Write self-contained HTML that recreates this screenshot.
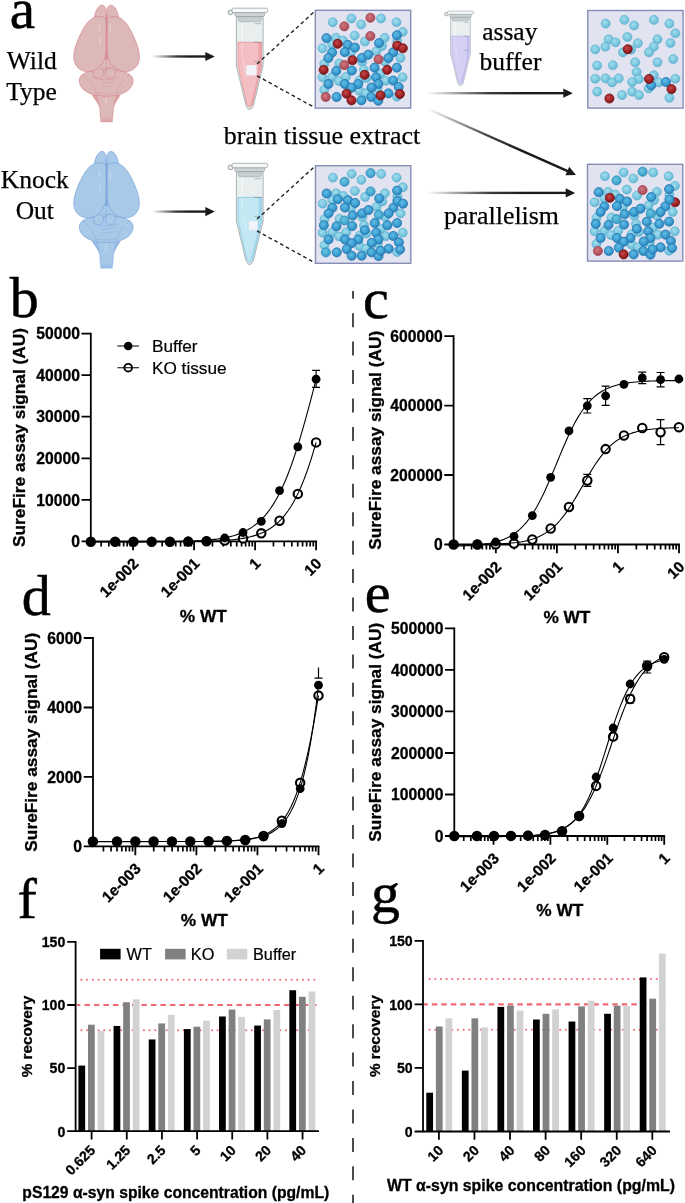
<!DOCTYPE html>
<html lang="en">
<head>
<meta charset="utf-8">
<title>Figure: SureFire assay parallelism and spike recovery</title>
<style>
html,body{margin:0;padding:0;background:#fff;}
body{width:685px;height:1203px;overflow:hidden;}
svg{display:block;}
.fs{font-family:'Liberation Serif', 'DejaVu Serif', serif;}
.fn{font-family:'Liberation Sans', 'DejaVu Sans', sans-serif;}
.b{font-weight:bold;}
</style>
</head>
<body>
<svg width="685" height="1203" viewBox="0 0 685 1203">
<defs>
<linearGradient id="ga" x1="0" y1="0" x2="1" y2="0"><stop offset="0" stop-color="#1a1a1a" stop-opacity="0"/><stop offset="0.45" stop-color="#1a1a1a" stop-opacity="0.85"/><stop offset="0.7" stop-color="#1a1a1a"/><stop offset="1" stop-color="#1a1a1a"/></linearGradient>
<radialGradient id="sL" cx="0.42" cy="0.38" r="0.62"><stop offset="0" stop-color="#a2dcec"/><stop offset="0.55" stop-color="#7fcbe2"/><stop offset="1" stop-color="#63b4d2"/></radialGradient>
<radialGradient id="sB" cx="0.42" cy="0.38" r="0.62"><stop offset="0" stop-color="#62bce4"/><stop offset="0.55" stop-color="#3fa2d4"/><stop offset="1" stop-color="#2b84bc"/></radialGradient>
<radialGradient id="sR" cx="0.42" cy="0.38" r="0.62"><stop offset="0" stop-color="#c44a4c"/><stop offset="0.55" stop-color="#a62629"/><stop offset="1" stop-color="#7e1719"/></radialGradient>
<radialGradient id="sP" cx="0.42" cy="0.38" r="0.62"><stop offset="0" stop-color="#cf7880"/><stop offset="0.55" stop-color="#bb5c66"/><stop offset="1" stop-color="#a64854"/></radialGradient>
<radialGradient id="sM" cx="0.42" cy="0.38" r="0.62"><stop offset="0" stop-color="#6cc4e0"/><stop offset="0.55" stop-color="#4cb0d4"/><stop offset="1" stop-color="#3a98c4"/></radialGradient>
<linearGradient id="bs1" x1="0" y1="0" x2="0" y2="1"><stop offset="0" stop-color="#dcb8b8"/><stop offset="0.78" stop-color="#dcb8b8"/><stop offset="0.98" stop-color="#dcb8b8" stop-opacity="0"/></linearGradient>
<linearGradient id="bs2" x1="0" y1="0" x2="0" y2="1"><stop offset="0" stop-color="#a9c9e9"/><stop offset="0.78" stop-color="#a9c9e9"/><stop offset="0.98" stop-color="#a9c9e9" stop-opacity="0"/></linearGradient>
</defs>
<rect width="685" height="1203" fill="#fff"/>
<g transform="translate(65 0) scale(0.12408)" fill="#dcb8b8" stroke="#d6888d" stroke-width="6" stroke-linejoin="round">
<path d="M218 765 C240 800 268 830 280 870 L286 985 L384 985 L390 870 C400 830 425 800 446 765 Z" fill="#dca3a5" stroke="none"/>
<path d="M262 765 C275 800 284 850 286 985 L384 985 C386 850 395 800 408 765 Z" fill="url(#bs1)" stroke="none"/>
<path d="M218 765 C240 800 268 830 280 870 L284 945 M446 765 C425 800 400 830 390 870 L386 945" fill="none" stroke-width="5" opacity="0.8"/>
<ellipse cx="334" cy="540" rx="120" ry="90" stroke="none"/>
<path d="M332 565 C420 560 548 575 548 650 C548 730 450 775 332 775 C214 775 116 730 116 650 C116 575 244 560 332 565 Z"/>
<path d="M140 600 C200 640 230 700 250 745 M525 600 C465 640 435 700 415 745 M235 745 C300 758 365 758 430 745 M225 620 C290 650 375 650 440 620 M290 665 C320 672 350 672 400 655 M300 695 C325 702 345 700 380 688" fill="none" stroke-width="4.5" opacity="0.7"/>
<circle cx="270" cy="590" r="42" stroke-width="5"/><circle cx="366" cy="590" r="42" stroke-width="5"/>
<path d="M300 540 L334 555 L368 540 M334 555 L334 480" fill="none" stroke-width="5" opacity="0.7"/>
<rect x="326" y="120" width="18" height="360" fill="#d6888d" stroke="none"/>
<path d="M236 140 C245 90 268 42 298 42 C322 42 332 70 332 100 L332 150 Z"/>
<path d="M432 140 C423 90 400 42 370 42 C346 42 338 70 338 100 L338 150 Z"/>
<path d="M330 150 C285 118 210 128 158 215 C108 300 62 410 72 480 C84 555 150 590 215 573 C292 553 331 480 331 400 Z"/>
<path d="M340 150 C385 118 460 128 512 215 C562 300 608 410 598 480 C586 555 520 590 455 573 C378 553 339 480 339 400 Z"/>
<path d="M278 200 L276 250 M286 310 L282 360 M362 200 L366 260 M330 790 L330 835 M480 625 L500 635" fill="none" stroke="#eddada" stroke-width="7" stroke-linecap="round" opacity="0.9"/>
</g>
<g transform="translate(65 146.3) scale(0.12408)" fill="#a9c9e9" stroke="#79a5da" stroke-width="6" stroke-linejoin="round">
<path d="M218 765 C240 800 268 830 280 870 L286 985 L384 985 L390 870 C400 830 425 800 446 765 Z" fill="#94b9e3" stroke="none"/>
<path d="M262 765 C275 800 284 850 286 985 L384 985 C386 850 395 800 408 765 Z" fill="url(#bs2)" stroke="none"/>
<path d="M218 765 C240 800 268 830 280 870 L284 945 M446 765 C425 800 400 830 390 870 L386 945" fill="none" stroke-width="5" opacity="0.8"/>
<ellipse cx="334" cy="540" rx="120" ry="90" stroke="none"/>
<path d="M332 565 C420 560 548 575 548 650 C548 730 450 775 332 775 C214 775 116 730 116 650 C116 575 244 560 332 565 Z"/>
<path d="M140 600 C200 640 230 700 250 745 M525 600 C465 640 435 700 415 745 M235 745 C300 758 365 758 430 745 M225 620 C290 650 375 650 440 620 M290 665 C320 672 350 672 400 655 M300 695 C325 702 345 700 380 688" fill="none" stroke-width="4.5" opacity="0.7"/>
<circle cx="270" cy="590" r="42" stroke-width="5"/><circle cx="366" cy="590" r="42" stroke-width="5"/>
<path d="M300 540 L334 555 L368 540 M334 555 L334 480" fill="none" stroke-width="5" opacity="0.7"/>
<rect x="326" y="120" width="18" height="360" fill="#79a5da" stroke="none"/>
<path d="M236 140 C245 90 268 42 298 42 C322 42 332 70 332 100 L332 150 Z"/>
<path d="M432 140 C423 90 400 42 370 42 C346 42 338 70 338 100 L338 150 Z"/>
<path d="M330 150 C285 118 210 128 158 215 C108 300 62 410 72 480 C84 555 150 590 215 573 C292 553 331 480 331 400 Z"/>
<path d="M340 150 C385 118 460 128 512 215 C562 300 608 410 598 480 C586 555 520 590 455 573 C378 553 339 480 339 400 Z"/>
<path d="M278 200 L276 250 M286 310 L282 360 M362 200 L366 260 M330 790 L330 835 M480 625 L500 635" fill="none" stroke="#cfe0f4" stroke-width="7" stroke-linecap="round" opacity="0.9"/>
</g>
<g transform="translate(152.00 56.50) rotate(0.000)"><rect x="0" y="-1.18" width="54.30" height="2.35" fill="url(#ga)"/><path d="M62.80 0 L53.30 -4.60 L53.30 4.60 Z" fill="#1a1a1a"/></g>
<g transform="translate(152.00 211.60) rotate(0.000)"><rect x="0" y="-1.18" width="54.30" height="2.35" fill="url(#ga)"/><path d="M62.80 0 L53.30 -4.60 L53.30 4.60 Z" fill="#1a1a1a"/></g>
<g transform="translate(427.00 93.20) rotate(0.000)"><rect x="0" y="-1.18" width="137.30" height="2.35" fill="url(#ga)"/><path d="M145.80 0 L136.30 -4.60 L136.30 4.60 Z" fill="#1a1a1a"/></g>
<g transform="translate(427.00 108.50) rotate(24.020)"><rect x="0" y="-1.18" width="154.63" height="2.35" fill="url(#ga)"/><path d="M163.13 0 L153.63 -4.60 L153.63 4.60 Z" fill="#1a1a1a"/></g>
<g transform="translate(427.00 192.90) rotate(0.000)"><rect x="0" y="-1.18" width="139.70" height="2.35" fill="url(#ga)"/><path d="M148.20 0 L138.70 -4.60 L138.70 4.60 Z" fill="#1a1a1a"/></g>
<g transform="translate(215.000 0.000) scale(0.11679)">
<ellipse cx="133" cy="106" rx="21" ry="20" fill="#e9edee" stroke="#8b979c" stroke-width="8"/>
<path d="M183 140 L183 565 L266 905 Q297 972 328 905 L412 565 L412 140 Z" fill="#e9efef" stroke="#7f8d92" stroke-width="5.5" stroke-linejoin="round"/>
<path d="M232 200 L232 340" stroke="#fff" stroke-width="14" opacity="0.5" stroke-linecap="round"/>
<path d="M197 362 L399 362 L399 565 L321 893 Q297 943 273 893 L197 565 Z" fill="#f3bfc3" stroke="#e2848c" stroke-width="5.5" stroke-linejoin="round"/>
<path d="M372 366 L396 366 L396 565 L319 888 Q306 916 297 912 C330 800 366 680 372 560 Z" fill="#e9989f" opacity="0.75"/>
<path d="M232 380 L232 470 M240 500 L262 640" stroke="#fff" stroke-width="10" opacity="0.3" stroke-linecap="round"/>
<path d="M198 143 L397 143 L397 162 Q397 186 374 186 L221 186 Q198 186 198 162 Z" fill="#c9cfd1" stroke="#98a3a7" stroke-width="5"/>
<path d="M170 108 L425 108 L425 128 Q425 140 413 140 L182 140 Q170 140 170 128 Z" fill="#d0d6d8" stroke="#8b979c" stroke-width="5"/>
<rect x="146" y="70" width="304" height="38" rx="12" fill="#f6f8f8" stroke="#8b979c" stroke-width="6"/>
<path d="M340 203 L395 203 M335 362 L400 362 M335 525 L388 525" stroke="#6d777b" stroke-width="4" fill="none"/>
<rect x="268" y="558" width="87" height="87" fill="#f3f4fa"/>
</g>
<g transform="translate(215.000 155.100) scale(0.11679)">
<ellipse cx="133" cy="106" rx="21" ry="20" fill="#e9edee" stroke="#8b979c" stroke-width="8"/>
<path d="M183 140 L183 565 L266 905 Q297 972 328 905 L412 565 L412 140 Z" fill="#e9efef" stroke="#7f8d92" stroke-width="5.5" stroke-linejoin="round"/>
<path d="M232 200 L232 340" stroke="#fff" stroke-width="14" opacity="0.5" stroke-linecap="round"/>
<path d="M197 362 L399 362 L399 565 L321 893 Q297 943 273 893 L197 565 Z" fill="#c3e7f3" stroke="#6fbcdb" stroke-width="5.5" stroke-linejoin="round"/>
<path d="M372 366 L396 366 L396 565 L319 888 Q306 916 297 912 C330 800 366 680 372 560 Z" fill="#9ad4ea" opacity="0.75"/>
<path d="M232 380 L232 470 M240 500 L262 640" stroke="#fff" stroke-width="10" opacity="0.3" stroke-linecap="round"/>
<path d="M198 143 L397 143 L397 162 Q397 186 374 186 L221 186 Q198 186 198 162 Z" fill="#c9cfd1" stroke="#98a3a7" stroke-width="5"/>
<path d="M170 108 L425 108 L425 128 Q425 140 413 140 L182 140 Q170 140 170 128 Z" fill="#d0d6d8" stroke="#8b979c" stroke-width="5"/>
<rect x="146" y="70" width="304" height="38" rx="12" fill="#f6f8f8" stroke="#8b979c" stroke-width="6"/>
<path d="M340 203 L395 203 M335 362 L400 362 M335 525 L388 525" stroke="#6d777b" stroke-width="4" fill="none"/>
<rect x="290" y="567" width="73" height="73" fill="#f3f4fa"/>
</g>
<g transform="translate(434.889 5.071) scale(0.08607)">
<ellipse cx="133" cy="106" rx="21" ry="20" fill="#e9edee" stroke="#8b979c" stroke-width="8"/>
<path d="M183 140 L183 565 L266 905 Q297 972 328 905 L412 565 L412 140 Z" fill="#e9efef" stroke="#7f8d92" stroke-width="5.5" stroke-linejoin="round"/>
<path d="M232 200 L232 340" stroke="#fff" stroke-width="14" opacity="0.5" stroke-linecap="round"/>
<path d="M197 362 L399 362 L399 565 L321 893 Q297 943 273 893 L197 565 Z" fill="#d6d0f4" stroke="#a79fe4" stroke-width="5.5" stroke-linejoin="round"/>
<path d="M372 366 L396 366 L396 565 L319 888 Q306 916 297 912 C330 800 366 680 372 560 Z" fill="#bdb5ec" opacity="0.75"/>
<path d="M232 380 L232 470 M240 500 L262 640" stroke="#fff" stroke-width="10" opacity="0.3" stroke-linecap="round"/>
<path d="M198 143 L397 143 L397 162 Q397 186 374 186 L221 186 Q198 186 198 162 Z" fill="#c9cfd1" stroke="#98a3a7" stroke-width="5"/>
<path d="M170 108 L425 108 L425 128 Q425 140 413 140 L182 140 Q170 140 170 128 Z" fill="#d0d6d8" stroke="#8b979c" stroke-width="5"/>
<rect x="146" y="70" width="304" height="38" rx="12" fill="#f6f8f8" stroke="#8b979c" stroke-width="6"/>
<path d="M340 203 L395 203 M335 362 L400 362 M335 525 L388 525" stroke="#6d777b" stroke-width="4" fill="none"/>
</g>
<path d="M257 64.0 L315.5 10.6 M257 75.8 L315.5 108.0" stroke="#222" stroke-width="1.4" stroke-dasharray="3.7 2.9" fill="none"/>
<path d="M257 219.1 L315.5 165.7 M257 230.9 L315.5 263.1" stroke="#222" stroke-width="1.4" stroke-dasharray="3.7 2.9" fill="none"/>
<g><rect x="315.30" y="10.30" width="95.40" height="97.80" fill="#e1e3f1" stroke="#858db5" stroke-width="1.4"/>
<circle cx="332.72" cy="22.21" r="4.55" fill="url(#sL)" stroke="#5caccc" stroke-width="0.55"/>
<circle cx="351.48" cy="18.49" r="4.55" fill="url(#sL)" stroke="#5caccc" stroke-width="0.55"/>
<circle cx="361.16" cy="24.45" r="4.55" fill="url(#sL)" stroke="#5caccc" stroke-width="0.55"/>
<circle cx="380.97" cy="18.49" r="4.55" fill="url(#sL)" stroke="#5caccc" stroke-width="0.55"/>
<circle cx="396.45" cy="22.21" r="4.55" fill="url(#sL)" stroke="#5caccc" stroke-width="0.55"/>
<circle cx="402.71" cy="31.89" r="4.55" fill="url(#sL)" stroke="#5caccc" stroke-width="0.55"/>
<circle cx="335.85" cy="37.85" r="4.55" fill="url(#sL)" stroke="#5caccc" stroke-width="0.55"/>
<circle cx="343.00" cy="40.53" r="4.55" fill="url(#sL)" stroke="#5caccc" stroke-width="0.55"/>
<circle cx="354.61" cy="35.61" r="4.55" fill="url(#sL)" stroke="#5caccc" stroke-width="0.55"/>
<circle cx="364.89" cy="41.57" r="4.55" fill="url(#sL)" stroke="#5caccc" stroke-width="0.55"/>
<circle cx="384.69" cy="37.85" r="4.55" fill="url(#sL)" stroke="#5caccc" stroke-width="0.55"/>
<circle cx="397.20" cy="40.83" r="4.55" fill="url(#sL)" stroke="#5caccc" stroke-width="0.55"/>
<circle cx="322.45" cy="48.27" r="4.55" fill="url(#sL)" stroke="#5caccc" stroke-width="0.55"/>
<circle cx="332.13" cy="44.55" r="4.55" fill="url(#sL)" stroke="#5caccc" stroke-width="0.55"/>
<circle cx="376.35" cy="51.25" r="4.55" fill="url(#sL)" stroke="#5caccc" stroke-width="0.55"/>
<circle cx="382.01" cy="46.04" r="4.55" fill="url(#sL)" stroke="#5caccc" stroke-width="0.55"/>
<circle cx="400.47" cy="57.95" r="4.55" fill="url(#sL)" stroke="#5caccc" stroke-width="0.55"/>
<circle cx="324.23" cy="63.91" r="4.55" fill="url(#sL)" stroke="#5caccc" stroke-width="0.55"/>
<circle cx="339.27" cy="63.46" r="4.55" fill="url(#sL)" stroke="#5caccc" stroke-width="0.55"/>
<circle cx="362.21" cy="61.67" r="4.55" fill="url(#sL)" stroke="#5caccc" stroke-width="0.55"/>
<circle cx="384.99" cy="61.67" r="4.55" fill="url(#sL)" stroke="#5caccc" stroke-width="0.55"/>
<circle cx="322.45" cy="77.31" r="4.55" fill="url(#sL)" stroke="#5caccc" stroke-width="0.55"/>
<circle cx="332.13" cy="76.86" r="4.55" fill="url(#sL)" stroke="#5caccc" stroke-width="0.55"/>
<circle cx="345.97" cy="76.86" r="4.55" fill="url(#sL)" stroke="#5caccc" stroke-width="0.55"/>
<circle cx="338.83" cy="81.03" r="4.55" fill="url(#sL)" stroke="#5caccc" stroke-width="0.55"/>
<circle cx="363.84" cy="69.86" r="4.55" fill="url(#sL)" stroke="#5caccc" stroke-width="0.55"/>
<circle cx="380.82" cy="73.58" r="4.55" fill="url(#sL)" stroke="#5caccc" stroke-width="0.55"/>
<circle cx="402.56" cy="77.31" r="4.55" fill="url(#sL)" stroke="#5caccc" stroke-width="0.55"/>
<circle cx="385.73" cy="80.73" r="4.55" fill="url(#sL)" stroke="#5caccc" stroke-width="0.55"/>
<circle cx="366.37" cy="78.05" r="4.55" fill="url(#sL)" stroke="#5caccc" stroke-width="0.55"/>
<circle cx="359.38" cy="80.29" r="4.55" fill="url(#sL)" stroke="#5caccc" stroke-width="0.55"/>
<circle cx="324.23" cy="89.96" r="4.55" fill="url(#sL)" stroke="#5caccc" stroke-width="0.55"/>
<circle cx="359.38" cy="90.71" r="4.55" fill="url(#sL)" stroke="#5caccc" stroke-width="0.55"/>
<circle cx="365.93" cy="93.24" r="4.55" fill="url(#sL)" stroke="#5caccc" stroke-width="0.55"/>
<circle cx="396.90" cy="96.66" r="4.55" fill="url(#sL)" stroke="#5caccc" stroke-width="0.55"/>
<circle cx="350.74" cy="52.74" r="4.55" fill="url(#sL)" stroke="#5caccc" stroke-width="0.55"/>
<circle cx="377.54" cy="88.48" r="4.55" fill="url(#sL)" stroke="#5caccc" stroke-width="0.55"/>
<circle cx="370.39" cy="17.75" r="4.55" fill="url(#sP)" stroke="#a04654" stroke-width="0.8"/>
<circle cx="344.34" cy="26.38" r="4.55" fill="url(#sP)" stroke="#a04654" stroke-width="0.8"/>
<circle cx="370.39" cy="36.06" r="4.55" fill="url(#sP)" stroke="#a04654" stroke-width="0.8"/>
<circle cx="378.58" cy="59.44" r="4.55" fill="url(#sP)" stroke="#a04654" stroke-width="0.8"/>
<circle cx="344.34" cy="65.10" r="4.55" fill="url(#sP)" stroke="#a04654" stroke-width="0.8"/>
<circle cx="325.72" cy="96.96" r="4.55" fill="url(#sP)" stroke="#a04654" stroke-width="0.8"/>
<circle cx="326.47" cy="38.15" r="4.55" fill="url(#sB)" stroke="#2472ac" stroke-width="0.8"/>
<circle cx="396.90" cy="35.17" r="4.55" fill="url(#sB)" stroke="#2472ac" stroke-width="0.8"/>
<circle cx="347.76" cy="44.85" r="4.55" fill="url(#sB)" stroke="#2472ac" stroke-width="0.8"/>
<circle cx="354.91" cy="47.53" r="4.55" fill="url(#sB)" stroke="#2472ac" stroke-width="0.8"/>
<circle cx="379.03" cy="43.06" r="4.55" fill="url(#sB)" stroke="#2472ac" stroke-width="0.8"/>
<circle cx="332.13" cy="52.44" r="4.55" fill="url(#sB)" stroke="#2472ac" stroke-width="0.8"/>
<circle cx="344.78" cy="52.14" r="4.55" fill="url(#sB)" stroke="#2472ac" stroke-width="0.8"/>
<circle cx="393.18" cy="52.29" r="4.55" fill="url(#sB)" stroke="#2472ac" stroke-width="0.8"/>
<circle cx="328.40" cy="57.95" r="4.55" fill="url(#sB)" stroke="#2472ac" stroke-width="0.8"/>
<circle cx="361.91" cy="57.95" r="4.55" fill="url(#sB)" stroke="#2472ac" stroke-width="0.8"/>
<circle cx="368.31" cy="54.67" r="4.55" fill="url(#sB)" stroke="#2472ac" stroke-width="0.8"/>
<circle cx="388.41" cy="57.95" r="4.55" fill="url(#sB)" stroke="#2472ac" stroke-width="0.8"/>
<circle cx="374.56" cy="67.63" r="4.55" fill="url(#sB)" stroke="#2472ac" stroke-width="0.8"/>
<circle cx="396.90" cy="67.63" r="4.55" fill="url(#sB)" stroke="#2472ac" stroke-width="0.8"/>
<circle cx="336.30" cy="70.90" r="4.55" fill="url(#sB)" stroke="#2472ac" stroke-width="0.8"/>
<circle cx="351.93" cy="70.61" r="4.55" fill="url(#sB)" stroke="#2472ac" stroke-width="0.8"/>
<circle cx="376.05" cy="77.31" r="4.55" fill="url(#sB)" stroke="#2472ac" stroke-width="0.8"/>
<circle cx="393.18" cy="80.58" r="4.55" fill="url(#sB)" stroke="#2472ac" stroke-width="0.8"/>
<circle cx="328.40" cy="84.01" r="4.55" fill="url(#sB)" stroke="#2472ac" stroke-width="0.8"/>
<circle cx="344.78" cy="84.01" r="4.55" fill="url(#sB)" stroke="#2472ac" stroke-width="0.8"/>
<circle cx="358.18" cy="84.01" r="4.55" fill="url(#sB)" stroke="#2472ac" stroke-width="0.8"/>
<circle cx="378.29" cy="84.01" r="4.55" fill="url(#sB)" stroke="#2472ac" stroke-width="0.8"/>
<circle cx="351.48" cy="87.73" r="4.55" fill="url(#sB)" stroke="#2472ac" stroke-width="0.8"/>
<circle cx="371.59" cy="87.43" r="4.55" fill="url(#sB)" stroke="#2472ac" stroke-width="0.8"/>
<circle cx="398.69" cy="86.99" r="4.55" fill="url(#sB)" stroke="#2472ac" stroke-width="0.8"/>
<circle cx="336.59" cy="96.96" r="4.55" fill="url(#sB)" stroke="#2472ac" stroke-width="0.8"/>
<circle cx="371.29" cy="96.96" r="4.55" fill="url(#sB)" stroke="#2472ac" stroke-width="0.8"/>
<circle cx="388.41" cy="93.39" r="4.55" fill="url(#sB)" stroke="#2472ac" stroke-width="0.8"/>
<circle cx="361.46" cy="100.39" r="4.55" fill="url(#sB)" stroke="#2472ac" stroke-width="0.8"/>
<circle cx="378.29" cy="100.69" r="4.55" fill="url(#sB)" stroke="#2472ac" stroke-width="0.8"/>
<circle cx="337.64" cy="43.80" r="4.55" fill="url(#sR)" stroke="#701215" stroke-width="0.8"/>
<circle cx="397.20" cy="45.59" r="4.55" fill="url(#sR)" stroke="#701215" stroke-width="0.8"/>
<circle cx="402.86" cy="48.27" r="4.55" fill="url(#sR)" stroke="#701215" stroke-width="0.8"/>
<circle cx="352.53" cy="60.18" r="4.55" fill="url(#sR)" stroke="#701215" stroke-width="0.8"/>
<circle cx="323.64" cy="69.86" r="4.55" fill="url(#sR)" stroke="#701215" stroke-width="0.8"/>
<circle cx="387.22" cy="69.86" r="4.55" fill="url(#sR)" stroke="#701215" stroke-width="0.8"/>
<circle cx="364.59" cy="74.78" r="4.55" fill="url(#sR)" stroke="#701215" stroke-width="0.8"/>
<circle cx="346.57" cy="93.69" r="4.55" fill="url(#sR)" stroke="#701215" stroke-width="0.8"/>
<circle cx="380.52" cy="95.47" r="4.55" fill="url(#sR)" stroke="#701215" stroke-width="0.8"/>
<circle cx="399.88" cy="93.98" r="4.55" fill="url(#sR)" stroke="#701215" stroke-width="0.8"/>
<circle cx="351.48" cy="100.39" r="4.55" fill="url(#sR)" stroke="#701215" stroke-width="0.8"/>
</g>
<g><rect x="315.50" y="165.70" width="95.30" height="97.60" fill="#e1e3f1" stroke="#858db5" stroke-width="1.4"/>
<circle cx="332.92" cy="177.61" r="4.55" fill="url(#sL)" stroke="#5caccc" stroke-width="0.55"/>
<circle cx="351.68" cy="173.89" r="4.55" fill="url(#sL)" stroke="#5caccc" stroke-width="0.55"/>
<circle cx="361.36" cy="179.85" r="4.55" fill="url(#sL)" stroke="#5caccc" stroke-width="0.55"/>
<circle cx="381.17" cy="173.89" r="4.55" fill="url(#sL)" stroke="#5caccc" stroke-width="0.55"/>
<circle cx="396.65" cy="177.61" r="4.55" fill="url(#sL)" stroke="#5caccc" stroke-width="0.55"/>
<circle cx="402.91" cy="187.29" r="4.55" fill="url(#sL)" stroke="#5caccc" stroke-width="0.55"/>
<circle cx="336.05" cy="193.25" r="4.55" fill="url(#sL)" stroke="#5caccc" stroke-width="0.55"/>
<circle cx="343.20" cy="195.93" r="4.55" fill="url(#sL)" stroke="#5caccc" stroke-width="0.55"/>
<circle cx="354.81" cy="191.01" r="4.55" fill="url(#sL)" stroke="#5caccc" stroke-width="0.55"/>
<circle cx="365.09" cy="196.97" r="4.55" fill="url(#sL)" stroke="#5caccc" stroke-width="0.55"/>
<circle cx="384.89" cy="193.25" r="4.55" fill="url(#sL)" stroke="#5caccc" stroke-width="0.55"/>
<circle cx="397.40" cy="196.23" r="4.55" fill="url(#sL)" stroke="#5caccc" stroke-width="0.55"/>
<circle cx="322.65" cy="203.67" r="4.55" fill="url(#sL)" stroke="#5caccc" stroke-width="0.55"/>
<circle cx="332.33" cy="199.95" r="4.55" fill="url(#sL)" stroke="#5caccc" stroke-width="0.55"/>
<circle cx="376.55" cy="206.65" r="4.55" fill="url(#sL)" stroke="#5caccc" stroke-width="0.55"/>
<circle cx="382.21" cy="201.44" r="4.55" fill="url(#sL)" stroke="#5caccc" stroke-width="0.55"/>
<circle cx="400.67" cy="213.35" r="4.55" fill="url(#sL)" stroke="#5caccc" stroke-width="0.55"/>
<circle cx="324.43" cy="219.31" r="4.55" fill="url(#sL)" stroke="#5caccc" stroke-width="0.55"/>
<circle cx="339.47" cy="218.86" r="4.55" fill="url(#sL)" stroke="#5caccc" stroke-width="0.55"/>
<circle cx="362.41" cy="217.07" r="4.55" fill="url(#sL)" stroke="#5caccc" stroke-width="0.55"/>
<circle cx="385.19" cy="217.07" r="4.55" fill="url(#sL)" stroke="#5caccc" stroke-width="0.55"/>
<circle cx="322.65" cy="232.71" r="4.55" fill="url(#sL)" stroke="#5caccc" stroke-width="0.55"/>
<circle cx="332.33" cy="232.26" r="4.55" fill="url(#sL)" stroke="#5caccc" stroke-width="0.55"/>
<circle cx="346.17" cy="232.26" r="4.55" fill="url(#sL)" stroke="#5caccc" stroke-width="0.55"/>
<circle cx="339.03" cy="236.43" r="4.55" fill="url(#sL)" stroke="#5caccc" stroke-width="0.55"/>
<circle cx="364.04" cy="225.26" r="4.55" fill="url(#sL)" stroke="#5caccc" stroke-width="0.55"/>
<circle cx="381.02" cy="228.98" r="4.55" fill="url(#sL)" stroke="#5caccc" stroke-width="0.55"/>
<circle cx="402.76" cy="232.71" r="4.55" fill="url(#sL)" stroke="#5caccc" stroke-width="0.55"/>
<circle cx="385.93" cy="236.13" r="4.55" fill="url(#sL)" stroke="#5caccc" stroke-width="0.55"/>
<circle cx="366.57" cy="233.45" r="4.55" fill="url(#sL)" stroke="#5caccc" stroke-width="0.55"/>
<circle cx="359.58" cy="235.69" r="4.55" fill="url(#sL)" stroke="#5caccc" stroke-width="0.55"/>
<circle cx="324.43" cy="245.36" r="4.55" fill="url(#sL)" stroke="#5caccc" stroke-width="0.55"/>
<circle cx="359.58" cy="246.11" r="4.55" fill="url(#sL)" stroke="#5caccc" stroke-width="0.55"/>
<circle cx="366.13" cy="248.64" r="4.55" fill="url(#sL)" stroke="#5caccc" stroke-width="0.55"/>
<circle cx="397.10" cy="252.06" r="4.55" fill="url(#sL)" stroke="#5caccc" stroke-width="0.55"/>
<circle cx="350.94" cy="208.14" r="4.55" fill="url(#sL)" stroke="#5caccc" stroke-width="0.55"/>
<circle cx="377.74" cy="243.88" r="4.55" fill="url(#sL)" stroke="#5caccc" stroke-width="0.55"/>
<circle cx="370.59" cy="173.15" r="4.55" fill="url(#sM)" stroke="#2f8cba" stroke-width="0.8"/>
<circle cx="344.54" cy="181.78" r="4.55" fill="url(#sM)" stroke="#2f8cba" stroke-width="0.8"/>
<circle cx="370.59" cy="191.46" r="4.55" fill="url(#sM)" stroke="#2f8cba" stroke-width="0.8"/>
<circle cx="378.78" cy="214.84" r="4.55" fill="url(#sM)" stroke="#2f8cba" stroke-width="0.8"/>
<circle cx="344.54" cy="220.50" r="4.55" fill="url(#sM)" stroke="#2f8cba" stroke-width="0.8"/>
<circle cx="325.92" cy="252.36" r="4.55" fill="url(#sM)" stroke="#2f8cba" stroke-width="0.8"/>
<circle cx="326.67" cy="193.55" r="4.55" fill="url(#sB)" stroke="#2472ac" stroke-width="0.8"/>
<circle cx="397.10" cy="190.57" r="4.55" fill="url(#sB)" stroke="#2472ac" stroke-width="0.8"/>
<circle cx="347.96" cy="200.25" r="4.55" fill="url(#sB)" stroke="#2472ac" stroke-width="0.8"/>
<circle cx="355.11" cy="202.93" r="4.55" fill="url(#sB)" stroke="#2472ac" stroke-width="0.8"/>
<circle cx="379.23" cy="198.46" r="4.55" fill="url(#sB)" stroke="#2472ac" stroke-width="0.8"/>
<circle cx="332.33" cy="207.84" r="4.55" fill="url(#sB)" stroke="#2472ac" stroke-width="0.8"/>
<circle cx="344.98" cy="207.54" r="4.55" fill="url(#sB)" stroke="#2472ac" stroke-width="0.8"/>
<circle cx="393.38" cy="207.69" r="4.55" fill="url(#sB)" stroke="#2472ac" stroke-width="0.8"/>
<circle cx="328.60" cy="213.35" r="4.55" fill="url(#sB)" stroke="#2472ac" stroke-width="0.8"/>
<circle cx="362.11" cy="213.35" r="4.55" fill="url(#sB)" stroke="#2472ac" stroke-width="0.8"/>
<circle cx="368.51" cy="210.07" r="4.55" fill="url(#sB)" stroke="#2472ac" stroke-width="0.8"/>
<circle cx="388.61" cy="213.35" r="4.55" fill="url(#sB)" stroke="#2472ac" stroke-width="0.8"/>
<circle cx="374.76" cy="223.03" r="4.55" fill="url(#sB)" stroke="#2472ac" stroke-width="0.8"/>
<circle cx="397.10" cy="223.03" r="4.55" fill="url(#sB)" stroke="#2472ac" stroke-width="0.8"/>
<circle cx="336.50" cy="226.30" r="4.55" fill="url(#sB)" stroke="#2472ac" stroke-width="0.8"/>
<circle cx="352.13" cy="226.01" r="4.55" fill="url(#sB)" stroke="#2472ac" stroke-width="0.8"/>
<circle cx="376.25" cy="232.71" r="4.55" fill="url(#sB)" stroke="#2472ac" stroke-width="0.8"/>
<circle cx="393.38" cy="235.98" r="4.55" fill="url(#sB)" stroke="#2472ac" stroke-width="0.8"/>
<circle cx="328.60" cy="239.41" r="4.55" fill="url(#sB)" stroke="#2472ac" stroke-width="0.8"/>
<circle cx="344.98" cy="239.41" r="4.55" fill="url(#sB)" stroke="#2472ac" stroke-width="0.8"/>
<circle cx="358.38" cy="239.41" r="4.55" fill="url(#sB)" stroke="#2472ac" stroke-width="0.8"/>
<circle cx="378.49" cy="239.41" r="4.55" fill="url(#sB)" stroke="#2472ac" stroke-width="0.8"/>
<circle cx="351.68" cy="243.13" r="4.55" fill="url(#sB)" stroke="#2472ac" stroke-width="0.8"/>
<circle cx="371.79" cy="242.83" r="4.55" fill="url(#sB)" stroke="#2472ac" stroke-width="0.8"/>
<circle cx="398.89" cy="242.39" r="4.55" fill="url(#sB)" stroke="#2472ac" stroke-width="0.8"/>
<circle cx="336.79" cy="252.36" r="4.55" fill="url(#sB)" stroke="#2472ac" stroke-width="0.8"/>
<circle cx="371.49" cy="252.36" r="4.55" fill="url(#sB)" stroke="#2472ac" stroke-width="0.8"/>
<circle cx="388.61" cy="248.79" r="4.55" fill="url(#sB)" stroke="#2472ac" stroke-width="0.8"/>
<circle cx="361.66" cy="255.79" r="4.55" fill="url(#sB)" stroke="#2472ac" stroke-width="0.8"/>
<circle cx="378.49" cy="256.09" r="4.55" fill="url(#sB)" stroke="#2472ac" stroke-width="0.8"/>
<circle cx="337.84" cy="199.20" r="4.55" fill="url(#sB)" stroke="#2472ac" stroke-width="0.8"/>
<circle cx="397.40" cy="200.99" r="4.55" fill="url(#sB)" stroke="#2472ac" stroke-width="0.8"/>
<circle cx="403.06" cy="203.67" r="4.55" fill="url(#sB)" stroke="#2472ac" stroke-width="0.8"/>
<circle cx="352.73" cy="215.58" r="4.55" fill="url(#sB)" stroke="#2472ac" stroke-width="0.8"/>
<circle cx="323.84" cy="225.26" r="4.55" fill="url(#sB)" stroke="#2472ac" stroke-width="0.8"/>
<circle cx="387.42" cy="225.26" r="4.55" fill="url(#sB)" stroke="#2472ac" stroke-width="0.8"/>
<circle cx="364.79" cy="230.18" r="4.55" fill="url(#sB)" stroke="#2472ac" stroke-width="0.8"/>
<circle cx="346.77" cy="249.09" r="4.55" fill="url(#sB)" stroke="#2472ac" stroke-width="0.8"/>
<circle cx="380.72" cy="250.87" r="4.55" fill="url(#sB)" stroke="#2472ac" stroke-width="0.8"/>
<circle cx="400.08" cy="249.38" r="4.55" fill="url(#sB)" stroke="#2472ac" stroke-width="0.8"/>
<circle cx="351.68" cy="255.79" r="4.55" fill="url(#sB)" stroke="#2472ac" stroke-width="0.8"/>
</g>
<g><rect x="587.80" y="10.50" width="95.30" height="97.60" fill="#e1e3f1" stroke="#858db5" stroke-width="1.4"/>
<circle cx="605.67" cy="23.60" r="4.55" fill="url(#sL)" stroke="#5caccc" stroke-width="0.55"/>
<circle cx="624.43" cy="19.88" r="4.55" fill="url(#sL)" stroke="#5caccc" stroke-width="0.55"/>
<circle cx="634.11" cy="25.54" r="4.55" fill="url(#sL)" stroke="#5caccc" stroke-width="0.55"/>
<circle cx="653.91" cy="19.88" r="4.55" fill="url(#sL)" stroke="#5caccc" stroke-width="0.55"/>
<circle cx="669.40" cy="23.60" r="4.55" fill="url(#sL)" stroke="#5caccc" stroke-width="0.55"/>
<circle cx="675.36" cy="33.28" r="4.55" fill="url(#sL)" stroke="#5caccc" stroke-width="0.55"/>
<circle cx="608.65" cy="39.24" r="4.55" fill="url(#sL)" stroke="#5caccc" stroke-width="0.55"/>
<circle cx="615.50" cy="42.22" r="4.55" fill="url(#sL)" stroke="#5caccc" stroke-width="0.55"/>
<circle cx="627.41" cy="37.01" r="4.55" fill="url(#sL)" stroke="#5caccc" stroke-width="0.55"/>
<circle cx="637.83" cy="43.26" r="4.55" fill="url(#sL)" stroke="#5caccc" stroke-width="0.55"/>
<circle cx="657.49" cy="39.24" r="4.55" fill="url(#sL)" stroke="#5caccc" stroke-width="0.55"/>
<circle cx="670.44" cy="42.96" r="4.55" fill="url(#sL)" stroke="#5caccc" stroke-width="0.55"/>
<circle cx="595.25" cy="49.36" r="4.55" fill="url(#sL)" stroke="#5caccc" stroke-width="0.55"/>
<circle cx="605.37" cy="46.68" r="4.55" fill="url(#sL)" stroke="#5caccc" stroke-width="0.55"/>
<circle cx="622.94" cy="52.34" r="4.55" fill="url(#sL)" stroke="#5caccc" stroke-width="0.55"/>
<circle cx="630.98" cy="49.66" r="4.55" fill="url(#sL)" stroke="#5caccc" stroke-width="0.55"/>
<circle cx="653.76" cy="46.68" r="4.55" fill="url(#sL)" stroke="#5caccc" stroke-width="0.55"/>
<circle cx="649.00" cy="52.34" r="4.55" fill="url(#sL)" stroke="#5caccc" stroke-width="0.55"/>
<circle cx="673.27" cy="59.04" r="4.55" fill="url(#sL)" stroke="#5caccc" stroke-width="0.55"/>
<circle cx="597.18" cy="65.59" r="4.55" fill="url(#sL)" stroke="#5caccc" stroke-width="0.55"/>
<circle cx="612.82" cy="65.30" r="4.55" fill="url(#sL)" stroke="#5caccc" stroke-width="0.55"/>
<circle cx="635.15" cy="62.32" r="4.55" fill="url(#sL)" stroke="#5caccc" stroke-width="0.55"/>
<circle cx="657.49" cy="62.32" r="4.55" fill="url(#sL)" stroke="#5caccc" stroke-width="0.55"/>
<circle cx="595.25" cy="78.70" r="4.55" fill="url(#sL)" stroke="#5caccc" stroke-width="0.55"/>
<circle cx="605.37" cy="78.40" r="4.55" fill="url(#sL)" stroke="#5caccc" stroke-width="0.55"/>
<circle cx="618.77" cy="78.40" r="4.55" fill="url(#sL)" stroke="#5caccc" stroke-width="0.55"/>
<circle cx="612.07" cy="82.42" r="4.55" fill="url(#sL)" stroke="#5caccc" stroke-width="0.55"/>
<circle cx="636.64" cy="72.00" r="4.55" fill="url(#sL)" stroke="#5caccc" stroke-width="0.55"/>
<circle cx="653.76" cy="75.27" r="4.55" fill="url(#sL)" stroke="#5caccc" stroke-width="0.55"/>
<circle cx="675.36" cy="78.70" r="4.55" fill="url(#sL)" stroke="#5caccc" stroke-width="0.55"/>
<circle cx="638.87" cy="79.00" r="4.55" fill="url(#sL)" stroke="#5caccc" stroke-width="0.55"/>
<circle cx="632.17" cy="81.97" r="4.55" fill="url(#sL)" stroke="#5caccc" stroke-width="0.55"/>
<circle cx="658.98" cy="82.42" r="4.55" fill="url(#sL)" stroke="#5caccc" stroke-width="0.55"/>
<circle cx="597.18" cy="91.65" r="4.55" fill="url(#sL)" stroke="#5caccc" stroke-width="0.55"/>
<circle cx="622.05" cy="95.08" r="4.55" fill="url(#sL)" stroke="#5caccc" stroke-width="0.55"/>
<circle cx="632.17" cy="91.65" r="4.55" fill="url(#sL)" stroke="#5caccc" stroke-width="0.55"/>
<circle cx="639.02" cy="95.08" r="4.55" fill="url(#sL)" stroke="#5caccc" stroke-width="0.55"/>
<circle cx="669.40" cy="97.76" r="4.55" fill="url(#sL)" stroke="#5caccc" stroke-width="0.55"/>
<circle cx="648.55" cy="88.38" r="4.55" fill="url(#sL)" stroke="#5caccc" stroke-width="0.55"/>
<circle cx="651.23" cy="85.40" r="4.55" fill="url(#sB)" stroke="#2472ac" stroke-width="0.8"/>
<circle cx="665.98" cy="81.97" r="4.55" fill="url(#sB)" stroke="#2472ac" stroke-width="0.8"/>
<circle cx="627.71" cy="49.22" r="4.55" fill="url(#sR)" stroke="#701215" stroke-width="0.8"/>
<circle cx="649.00" cy="79.00" r="4.55" fill="url(#sR)" stroke="#701215" stroke-width="0.8"/>
<circle cx="671.48" cy="89.12" r="4.55" fill="url(#sR)" stroke="#701215" stroke-width="0.8"/>
<circle cx="609.39" cy="98.50" r="4.55" fill="url(#sR)" stroke="#701215" stroke-width="0.8"/>
</g>
<g><rect x="587.50" y="164.30" width="95.30" height="96.80" fill="#e1e3f1" stroke="#858db5" stroke-width="1.4"/>
<circle cx="604.92" cy="176.21" r="4.55" fill="url(#sL)" stroke="#5caccc" stroke-width="0.55"/>
<circle cx="623.68" cy="172.49" r="4.55" fill="url(#sL)" stroke="#5caccc" stroke-width="0.55"/>
<circle cx="633.36" cy="178.45" r="4.55" fill="url(#sL)" stroke="#5caccc" stroke-width="0.55"/>
<circle cx="653.17" cy="172.49" r="4.55" fill="url(#sL)" stroke="#5caccc" stroke-width="0.55"/>
<circle cx="668.65" cy="176.21" r="4.55" fill="url(#sL)" stroke="#5caccc" stroke-width="0.55"/>
<circle cx="674.91" cy="185.89" r="4.55" fill="url(#sL)" stroke="#5caccc" stroke-width="0.55"/>
<circle cx="608.05" cy="191.85" r="4.55" fill="url(#sL)" stroke="#5caccc" stroke-width="0.55"/>
<circle cx="615.20" cy="194.53" r="4.55" fill="url(#sL)" stroke="#5caccc" stroke-width="0.55"/>
<circle cx="626.81" cy="189.61" r="4.55" fill="url(#sL)" stroke="#5caccc" stroke-width="0.55"/>
<circle cx="637.09" cy="195.57" r="4.55" fill="url(#sL)" stroke="#5caccc" stroke-width="0.55"/>
<circle cx="656.89" cy="191.85" r="4.55" fill="url(#sL)" stroke="#5caccc" stroke-width="0.55"/>
<circle cx="669.40" cy="194.83" r="4.55" fill="url(#sL)" stroke="#5caccc" stroke-width="0.55"/>
<circle cx="594.65" cy="202.27" r="4.55" fill="url(#sL)" stroke="#5caccc" stroke-width="0.55"/>
<circle cx="604.33" cy="198.55" r="4.55" fill="url(#sL)" stroke="#5caccc" stroke-width="0.55"/>
<circle cx="648.55" cy="205.25" r="4.55" fill="url(#sL)" stroke="#5caccc" stroke-width="0.55"/>
<circle cx="654.21" cy="200.04" r="4.55" fill="url(#sL)" stroke="#5caccc" stroke-width="0.55"/>
<circle cx="672.67" cy="211.95" r="4.55" fill="url(#sL)" stroke="#5caccc" stroke-width="0.55"/>
<circle cx="596.43" cy="217.91" r="4.55" fill="url(#sL)" stroke="#5caccc" stroke-width="0.55"/>
<circle cx="611.47" cy="217.46" r="4.55" fill="url(#sL)" stroke="#5caccc" stroke-width="0.55"/>
<circle cx="634.41" cy="215.67" r="4.55" fill="url(#sL)" stroke="#5caccc" stroke-width="0.55"/>
<circle cx="657.19" cy="215.67" r="4.55" fill="url(#sL)" stroke="#5caccc" stroke-width="0.55"/>
<circle cx="594.65" cy="231.31" r="4.55" fill="url(#sL)" stroke="#5caccc" stroke-width="0.55"/>
<circle cx="604.33" cy="230.86" r="4.55" fill="url(#sL)" stroke="#5caccc" stroke-width="0.55"/>
<circle cx="618.17" cy="230.86" r="4.55" fill="url(#sL)" stroke="#5caccc" stroke-width="0.55"/>
<circle cx="611.03" cy="235.03" r="4.55" fill="url(#sL)" stroke="#5caccc" stroke-width="0.55"/>
<circle cx="636.04" cy="223.86" r="4.55" fill="url(#sL)" stroke="#5caccc" stroke-width="0.55"/>
<circle cx="653.02" cy="227.58" r="4.55" fill="url(#sL)" stroke="#5caccc" stroke-width="0.55"/>
<circle cx="674.76" cy="231.31" r="4.55" fill="url(#sL)" stroke="#5caccc" stroke-width="0.55"/>
<circle cx="657.93" cy="234.73" r="4.55" fill="url(#sL)" stroke="#5caccc" stroke-width="0.55"/>
<circle cx="638.57" cy="232.05" r="4.55" fill="url(#sL)" stroke="#5caccc" stroke-width="0.55"/>
<circle cx="631.58" cy="234.29" r="4.55" fill="url(#sL)" stroke="#5caccc" stroke-width="0.55"/>
<circle cx="596.43" cy="243.96" r="4.55" fill="url(#sL)" stroke="#5caccc" stroke-width="0.55"/>
<circle cx="631.58" cy="244.71" r="4.55" fill="url(#sL)" stroke="#5caccc" stroke-width="0.55"/>
<circle cx="638.13" cy="247.24" r="4.55" fill="url(#sL)" stroke="#5caccc" stroke-width="0.55"/>
<circle cx="669.10" cy="250.66" r="4.55" fill="url(#sL)" stroke="#5caccc" stroke-width="0.55"/>
<circle cx="622.94" cy="206.74" r="4.55" fill="url(#sL)" stroke="#5caccc" stroke-width="0.55"/>
<circle cx="649.74" cy="242.48" r="4.55" fill="url(#sL)" stroke="#5caccc" stroke-width="0.55"/>
<circle cx="642.59" cy="171.75" r="4.55" fill="url(#sM)" stroke="#2f8cba" stroke-width="0.8"/>
<circle cx="616.54" cy="180.38" r="4.55" fill="url(#sM)" stroke="#2f8cba" stroke-width="0.8"/>
<circle cx="642.59" cy="190.06" r="4.55" fill="url(#sP)" stroke="#a04654" stroke-width="0.8"/>
<circle cx="650.78" cy="213.44" r="4.55" fill="url(#sM)" stroke="#2f8cba" stroke-width="0.8"/>
<circle cx="616.54" cy="219.10" r="4.55" fill="url(#sM)" stroke="#2f8cba" stroke-width="0.8"/>
<circle cx="597.92" cy="250.96" r="4.55" fill="url(#sP)" stroke="#a04654" stroke-width="0.8"/>
<circle cx="675.06" cy="202.27" r="4.55" fill="url(#sR)" stroke="#701215" stroke-width="0.8"/>
<circle cx="598.67" cy="192.15" r="4.55" fill="url(#sB)" stroke="#2472ac" stroke-width="0.8"/>
<circle cx="669.10" cy="189.17" r="4.55" fill="url(#sB)" stroke="#2472ac" stroke-width="0.8"/>
<circle cx="619.96" cy="198.85" r="4.55" fill="url(#sB)" stroke="#2472ac" stroke-width="0.8"/>
<circle cx="627.11" cy="201.53" r="4.55" fill="url(#sB)" stroke="#2472ac" stroke-width="0.8"/>
<circle cx="651.23" cy="197.06" r="4.55" fill="url(#sB)" stroke="#2472ac" stroke-width="0.8"/>
<circle cx="604.33" cy="206.44" r="4.55" fill="url(#sB)" stroke="#2472ac" stroke-width="0.8"/>
<circle cx="616.98" cy="206.14" r="4.55" fill="url(#sB)" stroke="#2472ac" stroke-width="0.8"/>
<circle cx="665.38" cy="206.29" r="4.55" fill="url(#sB)" stroke="#2472ac" stroke-width="0.8"/>
<circle cx="600.60" cy="211.95" r="4.55" fill="url(#sB)" stroke="#2472ac" stroke-width="0.8"/>
<circle cx="634.11" cy="211.95" r="4.55" fill="url(#sB)" stroke="#2472ac" stroke-width="0.8"/>
<circle cx="640.51" cy="208.67" r="4.55" fill="url(#sB)" stroke="#2472ac" stroke-width="0.8"/>
<circle cx="660.61" cy="211.95" r="4.55" fill="url(#sB)" stroke="#2472ac" stroke-width="0.8"/>
<circle cx="646.76" cy="221.63" r="4.55" fill="url(#sB)" stroke="#2472ac" stroke-width="0.8"/>
<circle cx="669.10" cy="221.63" r="4.55" fill="url(#sB)" stroke="#2472ac" stroke-width="0.8"/>
<circle cx="608.50" cy="224.90" r="4.55" fill="url(#sB)" stroke="#2472ac" stroke-width="0.8"/>
<circle cx="624.13" cy="224.61" r="4.55" fill="url(#sB)" stroke="#2472ac" stroke-width="0.8"/>
<circle cx="648.25" cy="231.31" r="4.55" fill="url(#sB)" stroke="#2472ac" stroke-width="0.8"/>
<circle cx="665.38" cy="234.58" r="4.55" fill="url(#sB)" stroke="#2472ac" stroke-width="0.8"/>
<circle cx="600.60" cy="238.01" r="4.55" fill="url(#sB)" stroke="#2472ac" stroke-width="0.8"/>
<circle cx="616.98" cy="238.01" r="4.55" fill="url(#sB)" stroke="#2472ac" stroke-width="0.8"/>
<circle cx="630.38" cy="238.01" r="4.55" fill="url(#sB)" stroke="#2472ac" stroke-width="0.8"/>
<circle cx="650.49" cy="238.01" r="4.55" fill="url(#sB)" stroke="#2472ac" stroke-width="0.8"/>
<circle cx="623.68" cy="241.73" r="4.55" fill="url(#sB)" stroke="#2472ac" stroke-width="0.8"/>
<circle cx="643.79" cy="241.43" r="4.55" fill="url(#sB)" stroke="#2472ac" stroke-width="0.8"/>
<circle cx="670.89" cy="240.99" r="4.55" fill="url(#sB)" stroke="#2472ac" stroke-width="0.8"/>
<circle cx="608.79" cy="250.96" r="4.55" fill="url(#sB)" stroke="#2472ac" stroke-width="0.8"/>
<circle cx="643.49" cy="250.96" r="4.55" fill="url(#sB)" stroke="#2472ac" stroke-width="0.8"/>
<circle cx="660.61" cy="247.39" r="4.55" fill="url(#sB)" stroke="#2472ac" stroke-width="0.8"/>
<circle cx="633.66" cy="254.39" r="4.55" fill="url(#sB)" stroke="#2472ac" stroke-width="0.8"/>
<circle cx="650.49" cy="254.69" r="4.55" fill="url(#sB)" stroke="#2472ac" stroke-width="0.8"/>
<circle cx="609.84" cy="197.80" r="4.55" fill="url(#sR)" stroke="#701215" stroke-width="0.8"/>
<circle cx="669.40" cy="199.59" r="4.55" fill="url(#sB)" stroke="#2472ac" stroke-width="0.8"/>
<circle cx="624.73" cy="214.18" r="4.55" fill="url(#sB)" stroke="#2472ac" stroke-width="0.8"/>
<circle cx="595.84" cy="223.86" r="4.55" fill="url(#sB)" stroke="#2472ac" stroke-width="0.8"/>
<circle cx="659.42" cy="223.86" r="4.55" fill="url(#sB)" stroke="#2472ac" stroke-width="0.8"/>
<circle cx="636.79" cy="228.78" r="4.55" fill="url(#sB)" stroke="#2472ac" stroke-width="0.8"/>
<circle cx="618.77" cy="247.69" r="4.55" fill="url(#sB)" stroke="#2472ac" stroke-width="0.8"/>
<circle cx="652.72" cy="249.47" r="4.55" fill="url(#sB)" stroke="#2472ac" stroke-width="0.8"/>
<circle cx="672.08" cy="247.98" r="4.55" fill="url(#sB)" stroke="#2472ac" stroke-width="0.8"/>
<circle cx="623.68" cy="254.39" r="4.55" fill="url(#sR)" stroke="#701215" stroke-width="0.8"/>
</g>
<text class="fs" x="9.70" y="27.90" font-size="57" stroke="#000" stroke-width="0.5">a</text>
<text class="fs" x="31.80" y="69.00" font-size="25.5" text-anchor="middle" stroke="#000" stroke-width="0.25">Wild</text>
<text class="fs" x="31.60" y="99.80" font-size="25.5" text-anchor="middle" stroke="#000" stroke-width="0.25">Type</text>
<text class="fs" x="34.80" y="188.20" font-size="25.5" text-anchor="middle" stroke="#000" stroke-width="0.25">Knock</text>
<text class="fs" x="34.80" y="219.10" font-size="25.5" text-anchor="middle" stroke="#000" stroke-width="0.25">Out</text>
<text class="fs" x="322.00" y="143.60" font-size="26" text-anchor="middle" stroke="#000" stroke-width="0.25">brain tissue extract</text>
<text class="fs" x="509.80" y="40.00" font-size="25.5" text-anchor="middle" stroke="#000" stroke-width="0.25">assay</text>
<text class="fs" x="510.50" y="70.10" font-size="25.5" text-anchor="middle" stroke="#000" stroke-width="0.25">buffer</text>
<text class="fs" x="501.50" y="223.80" font-size="25.9" text-anchor="middle" stroke="#000" stroke-width="0.25">parallelism</text>
<g>
<path d="M90.80 332.70 L90.80 542.30 M89.90 541.40 L317.10 541.40" stroke="#000" stroke-width="1.8" fill="none"/>
<path d="M81.50 333.60 L90.80 333.60 M81.50 375.20 L90.80 375.20 M81.50 416.70 L90.80 416.70 M81.50 458.30 L90.80 458.30 M81.50 499.80 L90.80 499.80 M81.50 541.40 L90.80 541.40" stroke="#000" stroke-width="1.8" fill="none"/>
<text class="fn b" x="79.90" y="339.30" font-size="15.7" text-anchor="end" stroke="#000" stroke-width="0.3">50000</text>
<text class="fn b" x="79.90" y="380.90" font-size="15.7" text-anchor="end" stroke="#000" stroke-width="0.3">40000</text>
<text class="fn b" x="79.90" y="422.40" font-size="15.7" text-anchor="end" stroke="#000" stroke-width="0.3">30000</text>
<text class="fn b" x="79.90" y="464.00" font-size="15.7" text-anchor="end" stroke="#000" stroke-width="0.3">20000</text>
<text class="fn b" x="79.90" y="505.50" font-size="15.7" text-anchor="end" stroke="#000" stroke-width="0.3">10000</text>
<text class="fn b" x="79.90" y="547.10" font-size="15.7" text-anchor="end" stroke="#000" stroke-width="0.3">0</text>
<path d="M133.10 541.40 L133.10 550.20 M194.10 541.40 L194.10 550.20 M255.10 541.40 L255.10 550.20 M316.10 541.40 L316.10 550.20" stroke="#000" stroke-width="1.8" fill="none"/>
<path d="M101.20 541.40 L101.20 546.40 M108.83 541.40 L108.83 546.40 M114.74 541.40 L114.74 546.40 M119.57 541.40 L119.57 546.40 M123.65 541.40 L123.65 546.40 M127.19 541.40 L127.19 546.40 M130.31 541.40 L130.31 546.40 M151.46 541.40 L151.46 546.40 M162.20 541.40 L162.20 546.40 M169.83 541.40 L169.83 546.40 M175.74 541.40 L175.74 546.40 M180.57 541.40 L180.57 546.40 M184.65 541.40 L184.65 546.40 M188.19 541.40 L188.19 546.40 M191.31 541.40 L191.31 546.40 M212.46 541.40 L212.46 546.40 M223.20 541.40 L223.20 546.40 M230.83 541.40 L230.83 546.40 M236.74 541.40 L236.74 546.40 M241.57 541.40 L241.57 546.40 M245.65 541.40 L245.65 546.40 M249.19 541.40 L249.19 546.40 M252.31 541.40 L252.31 546.40 M273.46 541.40 L273.46 546.40 M284.20 541.40 L284.20 546.40 M291.83 541.40 L291.83 546.40 M297.74 541.40 L297.74 546.40 M302.57 541.40 L302.57 546.40 M306.65 541.40 L306.65 546.40 M310.19 541.40 L310.19 546.40 M313.31 541.40 L313.31 546.40" stroke="#000" stroke-width="1.7" fill="none"/>
<text class="fn b" x="139.60" y="564.60" font-size="15.3" text-anchor="end" transform="rotate(-45 139.60 564.60)" stroke="#000" stroke-width="0.3">1e-002</text>
<text class="fn b" x="200.60" y="564.60" font-size="15.3" text-anchor="end" transform="rotate(-45 200.60 564.60)" stroke="#000" stroke-width="0.3">1e-001</text>
<text class="fn b" x="261.60" y="564.60" font-size="15.3" text-anchor="end" transform="rotate(-45 261.60 564.60)" stroke="#000" stroke-width="0.3">1</text>
<text class="fn b" x="322.60" y="564.60" font-size="15.3" text-anchor="end" transform="rotate(-45 322.60 564.60)" stroke="#000" stroke-width="0.3">10</text>
<text class="fn b" x="25.00" y="437.50" font-size="17.3" text-anchor="middle" transform="rotate(-90 25.00 437.50)" stroke="#000" stroke-width="0.3">SureFire assay signal (AU)</text>
<text class="fn b" x="203.30" y="621.90" font-size="17.3" text-anchor="middle" stroke="#000" stroke-width="0.3">% WT</text>
<path d="M316.10 370.40 L316.10 387.40 M312.10 370.40 L320.10 370.40 M312.10 387.40 L320.10 387.40" stroke="#000" stroke-width="1.2" fill="none"/>
<circle cx="316.10" cy="442.40" r="4.2" fill="#fff" stroke="#000" stroke-width="2.1"/>
<circle cx="297.83" cy="493.90" r="4.2" fill="#fff" stroke="#000" stroke-width="2.1"/>
<circle cx="279.56" cy="520.70" r="4.2" fill="#fff" stroke="#000" stroke-width="2.1"/>
<circle cx="261.29" cy="533.30" r="4.2" fill="#fff" stroke="#000" stroke-width="2.1"/>
<circle cx="243.02" cy="538.40" r="4.2" fill="#fff" stroke="#000" stroke-width="2.1"/>
<circle cx="224.75" cy="540.50" r="4.2" fill="#fff" stroke="#000" stroke-width="2.1"/>
<circle cx="206.48" cy="541.30" r="4.2" fill="#fff" stroke="#000" stroke-width="2.1"/>
<circle cx="188.21" cy="541.60" r="4.2" fill="#fff" stroke="#000" stroke-width="2.1"/>
<circle cx="169.94" cy="541.70" r="4.2" fill="#fff" stroke="#000" stroke-width="2.1"/>
<circle cx="151.67" cy="541.70" r="4.2" fill="#fff" stroke="#000" stroke-width="2.1"/>
<circle cx="133.40" cy="541.70" r="4.2" fill="#fff" stroke="#000" stroke-width="2.1"/>
<circle cx="115.13" cy="541.70" r="4.2" fill="#fff" stroke="#000" stroke-width="2.1"/>
<circle cx="90.80" cy="541.70" r="4.2" fill="#fff" stroke="#000" stroke-width="2.1"/>
<circle cx="316.10" cy="379.20" r="4.4" fill="#000"/>
<circle cx="297.83" cy="446.90" r="4.4" fill="#000"/>
<circle cx="279.56" cy="490.60" r="4.4" fill="#000"/>
<circle cx="261.29" cy="521.30" r="4.4" fill="#000"/>
<circle cx="243.02" cy="532.50" r="4.4" fill="#000"/>
<circle cx="224.75" cy="538.00" r="4.4" fill="#000"/>
<circle cx="206.48" cy="540.60" r="4.4" fill="#000"/>
<circle cx="188.21" cy="541.20" r="4.4" fill="#000"/>
<circle cx="169.94" cy="541.50" r="4.4" fill="#000"/>
<circle cx="151.67" cy="541.60" r="4.4" fill="#000"/>
<circle cx="133.40" cy="541.70" r="4.4" fill="#000"/>
<circle cx="115.13" cy="541.70" r="4.4" fill="#000"/>
<circle cx="90.80" cy="541.70" r="4.4" fill="#000"/>
<path d="M90.80 541.95 L93.33 541.94 L95.86 541.94 L98.39 541.94 L100.93 541.94 L103.46 541.94 L105.99 541.94 L108.52 541.94 L111.05 541.93 L113.58 541.93 L116.11 541.93 L118.65 541.93 L121.18 541.92 L123.71 541.92 L126.24 541.91 L128.77 541.91 L131.30 541.90 L133.83 541.90 L136.37 541.89 L138.90 541.88 L141.43 541.87 L143.96 541.86 L146.49 541.85 L149.02 541.84 L151.56 541.83 L154.09 541.81 L156.62 541.79 L159.15 541.77 L161.68 541.75 L164.21 541.72 L166.74 541.69 L169.28 541.66 L171.81 541.62 L174.34 541.57 L176.87 541.53 L179.40 541.47 L181.93 541.41 L184.46 541.34 L187.00 541.26 L189.53 541.17 L192.06 541.07 L194.59 540.96 L197.12 540.83 L199.65 540.69 L202.18 540.53 L204.72 540.35 L207.25 540.14 L209.78 539.91 L212.31 539.65 L214.84 539.36 L217.37 539.03 L219.90 538.65 L222.44 538.24 L224.97 537.76 L227.50 537.23 L230.03 536.64 L232.56 535.97 L235.09 535.21 L237.62 534.37 L240.16 533.42 L242.69 532.36 L245.22 531.16 L247.75 529.83 L250.28 528.34 L252.81 526.67 L255.34 524.81 L257.88 522.74 L260.41 520.44 L262.94 517.88 L265.47 515.05 L268.00 511.92 L270.53 508.46 L273.07 504.66 L275.60 500.49 L278.13 495.92 L280.66 490.95 L283.19 485.55 L285.72 479.71 L288.25 473.42 L290.79 466.68 L293.32 459.49 L295.85 451.87 L298.38 443.84 L300.91 435.42 L303.44 426.66 L305.97 417.59 L308.51 408.27 L311.04 398.77 L313.57 389.14 L316.10 379.45" stroke="#000" stroke-width="1.1" fill="none"/>
<path d="M90.80 541.78 L93.33 541.78 L95.86 541.78 L98.39 541.78 L100.93 541.78 L103.46 541.78 L105.99 541.78 L108.52 541.78 L111.05 541.78 L113.58 541.78 L116.11 541.78 L118.65 541.78 L121.18 541.77 L123.71 541.77 L126.24 541.77 L128.77 541.77 L131.30 541.77 L133.83 541.77 L136.37 541.77 L138.90 541.76 L141.43 541.76 L143.96 541.76 L146.49 541.76 L149.02 541.75 L151.56 541.75 L154.09 541.74 L156.62 541.74 L159.15 541.73 L161.68 541.72 L164.21 541.72 L166.74 541.71 L169.28 541.70 L171.81 541.69 L174.34 541.67 L176.87 541.66 L179.40 541.64 L181.93 541.62 L184.46 541.60 L187.00 541.58 L189.53 541.55 L192.06 541.52 L194.59 541.48 L197.12 541.44 L199.65 541.39 L202.18 541.34 L204.72 541.28 L207.25 541.21 L209.78 541.13 L212.31 541.04 L214.84 540.94 L217.37 540.83 L219.90 540.70 L222.44 540.55 L224.97 540.38 L227.50 540.19 L230.03 539.97 L232.56 539.73 L235.09 539.45 L237.62 539.13 L240.16 538.78 L242.69 538.37 L245.22 537.91 L247.75 537.39 L250.28 536.80 L252.81 536.13 L255.34 535.37 L257.88 534.52 L260.41 533.55 L262.94 532.46 L265.47 531.22 L268.00 529.83 L270.53 528.27 L273.07 526.51 L275.60 524.53 L278.13 522.31 L280.66 519.82 L283.19 517.05 L285.72 513.95 L288.25 510.50 L290.79 506.68 L293.32 502.44 L295.85 497.78 L298.38 492.64 L300.91 487.02 L303.44 480.90 L305.97 474.25 L308.51 467.08 L311.04 459.37 L313.57 451.14 L316.10 442.41" stroke="#000" stroke-width="1.1" fill="none"/>
<path d="M117.40 346.00 L139.00 346.00 M117.40 367.70 L139.00 367.70" stroke="#000" stroke-width="1.05"/>
<circle cx="128.20" cy="346.00" r="4.3" fill="#000"/>
<circle cx="128.20" cy="367.70" r="3.8" fill="none" stroke="#000" stroke-width="1.9"/>
<text class="fn" x="152.00" y="351.90" font-size="17.2" stroke="#000" stroke-width="0.2">Buffer</text>
<text class="fn" x="152.00" y="373.60" font-size="17.2" stroke="#000" stroke-width="0.2">KO tissue</text>
</g>
<text class="fs" x="9.70" y="317.00" font-size="58" stroke="#000" stroke-width="0.5">b</text>
<g>
<path d="M453.60 335.20 L453.60 545.40 M452.70 544.50 L679.90 544.50" stroke="#000" stroke-width="1.8" fill="none"/>
<path d="M444.30 336.10 L453.60 336.10 M444.30 405.60 L453.60 405.60 M444.30 475.00 L453.60 475.00 M444.30 544.50 L453.60 544.50" stroke="#000" stroke-width="1.8" fill="none"/>
<text class="fn b" x="442.70" y="341.80" font-size="15.7" text-anchor="end" stroke="#000" stroke-width="0.3">600000</text>
<text class="fn b" x="442.70" y="411.30" font-size="15.7" text-anchor="end" stroke="#000" stroke-width="0.3">400000</text>
<text class="fn b" x="442.70" y="480.70" font-size="15.7" text-anchor="end" stroke="#000" stroke-width="0.3">200000</text>
<text class="fn b" x="442.70" y="550.20" font-size="15.7" text-anchor="end" stroke="#000" stroke-width="0.3">0</text>
<path d="M495.85 544.50 L495.85 553.30 M556.90 544.50 L556.90 553.30 M617.95 544.50 L617.95 553.30 M679.00 544.50 L679.00 553.30" stroke="#000" stroke-width="1.8" fill="none"/>
<path d="M463.93 544.50 L463.93 549.50 M471.56 544.50 L471.56 549.50 M477.47 544.50 L477.47 549.50 M482.31 544.50 L482.31 549.50 M486.39 544.50 L486.39 549.50 M489.93 544.50 L489.93 549.50 M493.06 544.50 L493.06 549.50 M514.23 544.50 L514.23 549.50 M524.98 544.50 L524.98 549.50 M532.61 544.50 L532.61 549.50 M538.52 544.50 L538.52 549.50 M543.36 544.50 L543.36 549.50 M547.44 544.50 L547.44 549.50 M550.98 544.50 L550.98 549.50 M554.11 544.50 L554.11 549.50 M575.28 544.50 L575.28 549.50 M586.03 544.50 L586.03 549.50 M593.66 544.50 L593.66 549.50 M599.57 544.50 L599.57 549.50 M604.41 544.50 L604.41 549.50 M608.49 544.50 L608.49 549.50 M612.03 544.50 L612.03 549.50 M615.16 544.50 L615.16 549.50 M636.33 544.50 L636.33 549.50 M647.08 544.50 L647.08 549.50 M654.71 544.50 L654.71 549.50 M660.62 544.50 L660.62 549.50 M665.46 544.50 L665.46 549.50 M669.54 544.50 L669.54 549.50 M673.08 544.50 L673.08 549.50 M676.21 544.50 L676.21 549.50" stroke="#000" stroke-width="1.7" fill="none"/>
<text class="fn b" x="502.35" y="567.70" font-size="15.3" text-anchor="end" transform="rotate(-45 502.35 567.70)" stroke="#000" stroke-width="0.3">1e-002</text>
<text class="fn b" x="563.40" y="567.70" font-size="15.3" text-anchor="end" transform="rotate(-45 563.40 567.70)" stroke="#000" stroke-width="0.3">1e-001</text>
<text class="fn b" x="624.45" y="567.70" font-size="15.3" text-anchor="end" transform="rotate(-45 624.45 567.70)" stroke="#000" stroke-width="0.3">1</text>
<text class="fn b" x="685.50" y="567.70" font-size="15.3" text-anchor="end" transform="rotate(-45 685.50 567.70)" stroke="#000" stroke-width="0.3">10</text>
<text class="fn b" x="381.40" y="440.30" font-size="17.3" text-anchor="middle" transform="rotate(-90 381.40 440.30)" stroke="#000" stroke-width="0.3">SureFire assay signal (AU)</text>
<text class="fn b" x="566.90" y="623.30" font-size="17.3" text-anchor="middle" stroke="#000" stroke-width="0.3">% WT</text>
<path d="M660.58 372.50 L660.58 386.90 M656.58 372.50 L664.58 372.50 M656.58 386.90 L664.58 386.90 M642.26 372.20 L642.26 383.60 M638.26 372.20 L646.26 372.20 M638.26 383.60 L646.26 383.60 M605.62 386.10 L605.62 405.40 M601.62 386.10 L609.62 386.10 M601.62 405.40 L609.62 405.40 M587.30 398.60 L587.30 413.00 M583.30 398.60 L591.30 398.60 M583.30 413.00 L591.30 413.00 M660.58 419.70 L660.58 444.70 M656.58 419.70 L664.58 419.70 M656.58 444.70 L664.58 444.70 M587.30 474.40 L587.30 486.30 M583.30 474.40 L591.30 474.40 M583.30 486.30 L591.30 486.30" stroke="#000" stroke-width="1.2" fill="none"/>
<circle cx="678.90" cy="427.20" r="4.2" fill="#fff" stroke="#000" stroke-width="2.1"/>
<circle cx="660.58" cy="432.20" r="4.2" fill="#fff" stroke="#000" stroke-width="2.1"/>
<circle cx="642.26" cy="428.00" r="4.2" fill="#fff" stroke="#000" stroke-width="2.1"/>
<circle cx="623.94" cy="435.50" r="4.2" fill="#fff" stroke="#000" stroke-width="2.1"/>
<circle cx="605.62" cy="449.10" r="4.2" fill="#fff" stroke="#000" stroke-width="2.1"/>
<circle cx="587.30" cy="480.50" r="4.2" fill="#fff" stroke="#000" stroke-width="2.1"/>
<circle cx="568.98" cy="507.00" r="4.2" fill="#fff" stroke="#000" stroke-width="2.1"/>
<circle cx="550.66" cy="528.50" r="4.2" fill="#fff" stroke="#000" stroke-width="2.1"/>
<circle cx="532.34" cy="539.50" r="4.2" fill="#fff" stroke="#000" stroke-width="2.1"/>
<circle cx="514.02" cy="543.50" r="4.2" fill="#fff" stroke="#000" stroke-width="2.1"/>
<circle cx="495.70" cy="544.30" r="4.2" fill="#fff" stroke="#000" stroke-width="2.1"/>
<circle cx="477.38" cy="544.50" r="4.2" fill="#fff" stroke="#000" stroke-width="2.1"/>
<circle cx="453.60" cy="544.50" r="4.2" fill="#fff" stroke="#000" stroke-width="2.1"/>
<circle cx="678.90" cy="379.00" r="4.4" fill="#000"/>
<circle cx="660.58" cy="379.70" r="4.4" fill="#000"/>
<circle cx="642.26" cy="377.90" r="4.4" fill="#000"/>
<circle cx="623.94" cy="384.30" r="4.4" fill="#000"/>
<circle cx="605.62" cy="395.80" r="4.4" fill="#000"/>
<circle cx="587.30" cy="405.80" r="4.4" fill="#000"/>
<circle cx="568.98" cy="430.80" r="4.4" fill="#000"/>
<circle cx="550.66" cy="477.30" r="4.4" fill="#000"/>
<circle cx="532.34" cy="515.60" r="4.4" fill="#000"/>
<circle cx="514.02" cy="536.30" r="4.4" fill="#000"/>
<circle cx="495.70" cy="542.00" r="4.4" fill="#000"/>
<circle cx="477.38" cy="544.00" r="4.4" fill="#000"/>
<circle cx="453.60" cy="544.50" r="4.4" fill="#000"/>
<path d="M453.60 546.15 L456.13 546.09 L458.66 546.01 L461.19 545.93 L463.73 545.83 L466.26 545.71 L468.79 545.58 L471.32 545.43 L473.85 545.25 L476.38 545.04 L478.91 544.80 L481.45 544.53 L483.98 544.21 L486.51 543.84 L489.04 543.42 L491.57 542.93 L494.10 542.37 L496.63 541.72 L499.17 540.97 L501.70 540.12 L504.23 539.14 L506.76 538.01 L509.29 536.73 L511.82 535.27 L514.36 533.61 L516.89 531.72 L519.42 529.60 L521.95 527.20 L524.48 524.52 L527.01 521.54 L529.54 518.22 L532.08 514.57 L534.61 510.57 L537.14 506.21 L539.67 501.52 L542.20 496.49 L544.73 491.16 L547.26 485.56 L549.80 479.73 L552.33 473.74 L554.86 467.63 L557.39 461.48 L559.92 455.35 L562.45 449.31 L564.98 443.42 L567.52 437.73 L570.05 432.30 L572.58 427.17 L575.11 422.35 L577.64 417.88 L580.17 413.75 L582.70 409.97 L585.24 406.54 L587.77 403.44 L590.30 400.65 L592.83 398.16 L595.36 395.95 L597.89 393.98 L600.42 392.24 L602.96 390.71 L605.49 389.37 L608.02 388.19 L610.55 387.16 L613.08 386.27 L615.61 385.48 L618.14 384.80 L620.68 384.21 L623.21 383.70 L625.74 383.25 L628.27 382.86 L630.80 382.53 L633.33 382.24 L635.87 381.99 L638.40 381.77 L640.93 381.59 L643.46 381.42 L645.99 381.28 L648.52 381.16 L651.05 381.06 L653.59 380.97 L656.12 380.89 L658.65 380.82 L661.18 380.77 L663.71 380.72 L666.24 380.67 L668.77 380.64 L671.31 380.60 L673.84 380.58 L676.37 380.55 L678.90 380.53" stroke="#000" stroke-width="1.1" fill="none"/>
<path d="M453.60 544.69 L456.13 544.68 L458.66 544.67 L461.19 544.66 L463.73 544.64 L466.26 544.63 L468.79 544.61 L471.32 544.59 L473.85 544.56 L476.38 544.53 L478.91 544.50 L481.45 544.46 L483.98 544.42 L486.51 544.36 L489.04 544.30 L491.57 544.23 L494.10 544.15 L496.63 544.05 L499.17 543.94 L501.70 543.81 L504.23 543.66 L506.76 543.49 L509.29 543.29 L511.82 543.05 L514.36 542.78 L516.89 542.47 L519.42 542.10 L521.95 541.68 L524.48 541.20 L527.01 540.64 L529.54 539.99 L532.08 539.25 L534.61 538.40 L537.14 537.43 L539.67 536.32 L542.20 535.05 L544.73 533.62 L547.26 531.99 L549.80 530.16 L552.33 528.11 L554.86 525.83 L557.39 523.30 L559.92 520.51 L562.45 517.46 L564.98 514.16 L567.52 510.61 L570.05 506.82 L572.58 502.83 L575.11 498.65 L577.64 494.35 L580.17 489.94 L582.70 485.50 L585.24 481.06 L587.77 476.67 L590.30 472.39 L592.83 468.26 L595.36 464.31 L597.89 460.58 L600.42 457.09 L602.96 453.84 L605.49 450.86 L608.02 448.13 L610.55 445.66 L613.08 443.44 L615.61 441.44 L618.14 439.66 L620.68 438.09 L623.21 436.69 L625.74 435.46 L628.27 434.39 L630.80 433.45 L633.33 432.62 L635.87 431.91 L638.40 431.28 L640.93 430.74 L643.46 430.27 L645.99 429.87 L648.52 429.52 L651.05 429.21 L653.59 428.95 L656.12 428.72 L658.65 428.53 L661.18 428.36 L663.71 428.22 L666.24 428.09 L668.77 427.98 L671.31 427.89 L673.84 427.81 L676.37 427.74 L678.90 427.69" stroke="#000" stroke-width="1.1" fill="none"/>
</g>
<text class="fs" x="363.00" y="318.30" font-size="58" stroke="#000" stroke-width="0.5">c</text>
<g>
<path d="M93.00 637.10 L93.00 847.30 M92.10 846.40 L319.50 846.40" stroke="#000" stroke-width="1.8" fill="none"/>
<path d="M83.70 638.00 L93.00 638.00 M83.70 707.50 L93.00 707.50 M83.70 776.90 L93.00 776.90 M83.70 846.40 L93.00 846.40" stroke="#000" stroke-width="1.8" fill="none"/>
<text class="fn b" x="82.10" y="643.70" font-size="15.7" text-anchor="end" stroke="#000" stroke-width="0.3">6000</text>
<text class="fn b" x="82.10" y="713.20" font-size="15.7" text-anchor="end" stroke="#000" stroke-width="0.3">4000</text>
<text class="fn b" x="82.10" y="782.60" font-size="15.7" text-anchor="end" stroke="#000" stroke-width="0.3">2000</text>
<text class="fn b" x="82.10" y="852.10" font-size="15.7" text-anchor="end" stroke="#000" stroke-width="0.3">0</text>
<path d="M135.35 846.40 L135.35 855.20 M196.40 846.40 L196.40 855.20 M257.45 846.40 L257.45 855.20 M318.50 846.40 L318.50 855.20" stroke="#000" stroke-width="1.8" fill="none"/>
<path d="M103.43 846.40 L103.43 851.40 M111.06 846.40 L111.06 851.40 M116.97 846.40 L116.97 851.40 M121.81 846.40 L121.81 851.40 M125.89 846.40 L125.89 851.40 M129.43 846.40 L129.43 851.40 M132.56 846.40 L132.56 851.40 M153.73 846.40 L153.73 851.40 M164.48 846.40 L164.48 851.40 M172.11 846.40 L172.11 851.40 M178.02 846.40 L178.02 851.40 M182.86 846.40 L182.86 851.40 M186.94 846.40 L186.94 851.40 M190.48 846.40 L190.48 851.40 M193.61 846.40 L193.61 851.40 M214.78 846.40 L214.78 851.40 M225.53 846.40 L225.53 851.40 M233.16 846.40 L233.16 851.40 M239.07 846.40 L239.07 851.40 M243.91 846.40 L243.91 851.40 M247.99 846.40 L247.99 851.40 M251.53 846.40 L251.53 851.40 M254.66 846.40 L254.66 851.40 M275.83 846.40 L275.83 851.40 M286.58 846.40 L286.58 851.40 M294.21 846.40 L294.21 851.40 M300.12 846.40 L300.12 851.40 M304.96 846.40 L304.96 851.40 M309.04 846.40 L309.04 851.40 M312.58 846.40 L312.58 851.40 M315.71 846.40 L315.71 851.40" stroke="#000" stroke-width="1.7" fill="none"/>
<text class="fn b" x="141.85" y="869.60" font-size="15.3" text-anchor="end" transform="rotate(-45 141.85 869.60)" stroke="#000" stroke-width="0.3">1e-003</text>
<text class="fn b" x="202.90" y="869.60" font-size="15.3" text-anchor="end" transform="rotate(-45 202.90 869.60)" stroke="#000" stroke-width="0.3">1e-002</text>
<text class="fn b" x="263.95" y="869.60" font-size="15.3" text-anchor="end" transform="rotate(-45 263.95 869.60)" stroke="#000" stroke-width="0.3">1e-001</text>
<text class="fn b" x="325.00" y="869.60" font-size="15.3" text-anchor="end" transform="rotate(-45 325.00 869.60)" stroke="#000" stroke-width="0.3">1</text>
<text class="fn b" x="36.90" y="742.20" font-size="17.3" text-anchor="middle" transform="rotate(-90 36.90 742.20)" stroke="#000" stroke-width="0.3">SureFire assay signal (AU)</text>
<text class="fn b" x="204.30" y="926.20" font-size="17.3" text-anchor="middle" stroke="#000" stroke-width="0.3">% WT</text>
<path d="M318.50 667.40 L318.50 678.20 M314.50 678.20 L322.50 678.20" stroke="#000" stroke-width="1.2" fill="none"/>
<circle cx="318.50" cy="695.60" r="4.2" fill="#fff" stroke="#000" stroke-width="2.1"/>
<circle cx="300.18" cy="782.80" r="4.2" fill="#fff" stroke="#000" stroke-width="2.1"/>
<circle cx="281.86" cy="820.70" r="4.2" fill="#fff" stroke="#000" stroke-width="2.1"/>
<circle cx="263.54" cy="836.00" r="4.2" fill="#fff" stroke="#000" stroke-width="2.1"/>
<circle cx="245.22" cy="840.00" r="4.2" fill="#fff" stroke="#000" stroke-width="2.1"/>
<circle cx="226.90" cy="840.90" r="4.2" fill="#fff" stroke="#000" stroke-width="2.1"/>
<circle cx="208.58" cy="841.30" r="4.2" fill="#fff" stroke="#000" stroke-width="2.1"/>
<circle cx="190.26" cy="841.40" r="4.2" fill="#fff" stroke="#000" stroke-width="2.1"/>
<circle cx="171.94" cy="841.50" r="4.2" fill="#fff" stroke="#000" stroke-width="2.1"/>
<circle cx="153.62" cy="841.50" r="4.2" fill="#fff" stroke="#000" stroke-width="2.1"/>
<circle cx="135.30" cy="841.50" r="4.2" fill="#fff" stroke="#000" stroke-width="2.1"/>
<circle cx="116.98" cy="841.50" r="4.2" fill="#fff" stroke="#000" stroke-width="2.1"/>
<circle cx="92.90" cy="841.50" r="4.2" fill="#fff" stroke="#000" stroke-width="2.1"/>
<circle cx="318.50" cy="685.20" r="4.4" fill="#000"/>
<circle cx="300.18" cy="788.60" r="4.4" fill="#000"/>
<circle cx="281.86" cy="823.70" r="4.4" fill="#000"/>
<circle cx="263.54" cy="836.80" r="4.4" fill="#000"/>
<circle cx="245.22" cy="840.10" r="4.4" fill="#000"/>
<circle cx="226.90" cy="840.90" r="4.4" fill="#000"/>
<circle cx="208.58" cy="841.30" r="4.4" fill="#000"/>
<circle cx="190.26" cy="841.40" r="4.4" fill="#000"/>
<circle cx="171.94" cy="841.50" r="4.4" fill="#000"/>
<circle cx="153.62" cy="841.50" r="4.4" fill="#000"/>
<circle cx="135.30" cy="841.50" r="4.4" fill="#000"/>
<circle cx="116.98" cy="841.50" r="4.4" fill="#000"/>
<circle cx="92.90" cy="841.50" r="4.4" fill="#000"/>
<path d="M92.90 841.56 L95.43 841.56 L97.97 841.56 L100.50 841.56 L103.04 841.56 L105.57 841.56 L108.11 841.56 L110.64 841.56 L113.18 841.56 L115.71 841.56 L118.25 841.56 L120.78 841.56 L123.32 841.55 L125.85 841.55 L128.39 841.55 L130.92 841.55 L133.46 841.55 L135.99 841.55 L138.53 841.55 L141.06 841.55 L143.60 841.55 L146.13 841.55 L148.67 841.55 L151.20 841.55 L153.74 841.55 L156.27 841.55 L158.81 841.55 L161.34 841.55 L163.88 841.55 L166.41 841.54 L168.94 841.54 L171.48 841.54 L174.01 841.54 L176.55 841.53 L179.08 841.53 L181.62 841.52 L184.15 841.52 L186.69 841.51 L189.22 841.50 L191.76 841.49 L194.29 841.48 L196.83 841.47 L199.36 841.46 L201.90 841.44 L204.43 841.42 L206.97 841.40 L209.50 841.37 L212.04 841.34 L214.57 841.30 L217.11 841.26 L219.64 841.20 L222.18 841.14 L224.71 841.07 L227.25 840.99 L229.78 840.89 L232.32 840.78 L234.85 840.64 L237.39 840.49 L239.92 840.30 L242.46 840.09 L244.99 839.84 L247.52 839.54 L250.06 839.19 L252.59 838.79 L255.13 838.31 L257.66 837.75 L260.20 837.10 L262.73 836.33 L265.27 835.43 L267.80 834.38 L270.34 833.15 L272.87 831.71 L275.41 830.03 L277.94 828.06 L280.48 825.75 L283.01 823.06 L285.55 819.92 L288.08 816.24 L290.62 811.96 L293.15 806.97 L295.69 801.16 L298.22 794.41 L300.76 786.56 L303.29 777.46 L305.83 766.93 L308.36 754.77 L310.90 740.76 L313.43 724.67 L315.97 706.24 L318.50 685.21" stroke="#000" stroke-width="1.1" fill="none"/>
<path d="M92.90 841.58 L95.43 841.58 L97.97 841.58 L100.50 841.58 L103.04 841.58 L105.57 841.58 L108.11 841.58 L110.64 841.58 L113.18 841.58 L115.71 841.58 L118.25 841.58 L120.78 841.58 L123.32 841.58 L125.85 841.58 L128.39 841.58 L130.92 841.58 L133.46 841.58 L135.99 841.58 L138.53 841.58 L141.06 841.58 L143.60 841.58 L146.13 841.58 L148.67 841.58 L151.20 841.58 L153.74 841.58 L156.27 841.58 L158.81 841.57 L161.34 841.57 L163.88 841.57 L166.41 841.57 L168.94 841.57 L171.48 841.56 L174.01 841.56 L176.55 841.56 L179.08 841.55 L181.62 841.55 L184.15 841.54 L186.69 841.54 L189.22 841.53 L191.76 841.52 L194.29 841.51 L196.83 841.49 L199.36 841.48 L201.90 841.46 L204.43 841.44 L206.97 841.41 L209.50 841.38 L212.04 841.34 L214.57 841.30 L217.11 841.25 L219.64 841.19 L222.18 841.13 L224.71 841.05 L227.25 840.95 L229.78 840.84 L232.32 840.71 L234.85 840.55 L237.39 840.37 L239.92 840.16 L242.46 839.91 L244.99 839.61 L247.52 839.27 L250.06 838.86 L252.59 838.39 L255.13 837.82 L257.66 837.17 L260.20 836.40 L262.73 835.49 L265.27 834.43 L267.80 833.19 L270.34 831.74 L272.87 830.05 L275.41 828.08 L277.94 825.78 L280.48 823.10 L283.01 820.00 L285.55 816.41 L288.08 812.27 L290.62 807.50 L293.15 802.03 L295.69 795.79 L298.22 788.69 L300.76 780.68 L303.29 771.68 L305.83 761.64 L308.36 750.53 L310.90 738.34 L313.43 725.08 L315.97 710.81 L318.50 695.62" stroke="#000" stroke-width="1.1" fill="none"/>
</g>
<text class="fs" x="21.80" y="615.20" font-size="58" stroke="#000" stroke-width="0.5">d</text>
<g>
<path d="M454.30 627.50 L454.30 836.90 M453.40 836.00 L665.10 836.00" stroke="#000" stroke-width="1.8" fill="none"/>
<path d="M445.00 628.40 L454.30 628.40 M445.00 669.90 L454.30 669.90 M445.00 711.40 L454.30 711.40 M445.00 753.00 L454.30 753.00 M445.00 794.50 L454.30 794.50 M445.00 836.00 L454.30 836.00" stroke="#000" stroke-width="1.8" fill="none"/>
<text class="fn b" x="443.40" y="634.10" font-size="15.7" text-anchor="end" stroke="#000" stroke-width="0.3">500000</text>
<text class="fn b" x="443.40" y="675.60" font-size="15.7" text-anchor="end" stroke="#000" stroke-width="0.3">400000</text>
<text class="fn b" x="443.40" y="717.10" font-size="15.7" text-anchor="end" stroke="#000" stroke-width="0.3">300000</text>
<text class="fn b" x="443.40" y="758.70" font-size="15.7" text-anchor="end" stroke="#000" stroke-width="0.3">200000</text>
<text class="fn b" x="443.40" y="800.20" font-size="15.7" text-anchor="end" stroke="#000" stroke-width="0.3">100000</text>
<text class="fn b" x="443.40" y="841.70" font-size="15.7" text-anchor="end" stroke="#000" stroke-width="0.3">0</text>
<path d="M493.50 836.00 L493.50 844.80 M550.40 836.00 L550.40 844.80 M607.30 836.00 L607.30 844.80 M664.20 836.00 L664.20 844.80" stroke="#000" stroke-width="1.8" fill="none"/>
<path d="M463.75 836.00 L463.75 841.00 M470.86 836.00 L470.86 841.00 M476.37 836.00 L476.37 841.00 M480.88 836.00 L480.88 841.00 M484.69 836.00 L484.69 841.00 M487.99 836.00 L487.99 841.00 M490.90 836.00 L490.90 841.00 M510.63 836.00 L510.63 841.00 M520.65 836.00 L520.65 841.00 M527.76 836.00 L527.76 841.00 M533.27 836.00 L533.27 841.00 M537.78 836.00 L537.78 841.00 M541.59 836.00 L541.59 841.00 M544.89 836.00 L544.89 841.00 M547.80 836.00 L547.80 841.00 M567.53 836.00 L567.53 841.00 M577.55 836.00 L577.55 841.00 M584.66 836.00 L584.66 841.00 M590.17 836.00 L590.17 841.00 M594.68 836.00 L594.68 841.00 M598.49 836.00 L598.49 841.00 M601.79 836.00 L601.79 841.00 M604.70 836.00 L604.70 841.00 M624.43 836.00 L624.43 841.00 M634.45 836.00 L634.45 841.00 M641.56 836.00 L641.56 841.00 M647.07 836.00 L647.07 841.00 M651.58 836.00 L651.58 841.00 M655.39 836.00 L655.39 841.00 M658.69 836.00 L658.69 841.00 M661.60 836.00 L661.60 841.00" stroke="#000" stroke-width="1.7" fill="none"/>
<text class="fn b" x="500.00" y="859.20" font-size="15.3" text-anchor="end" transform="rotate(-45 500.00 859.20)" stroke="#000" stroke-width="0.3">1e-003</text>
<text class="fn b" x="556.90" y="859.20" font-size="15.3" text-anchor="end" transform="rotate(-45 556.90 859.20)" stroke="#000" stroke-width="0.3">1e-002</text>
<text class="fn b" x="613.80" y="859.20" font-size="15.3" text-anchor="end" transform="rotate(-45 613.80 859.20)" stroke="#000" stroke-width="0.3">1e-001</text>
<text class="fn b" x="670.70" y="859.20" font-size="15.3" text-anchor="end" transform="rotate(-45 670.70 859.20)" stroke="#000" stroke-width="0.3">1</text>
<text class="fn b" x="381.40" y="732.20" font-size="17.3" text-anchor="middle" transform="rotate(-90 381.40 732.20)" stroke="#000" stroke-width="0.3">SureFire assay signal (AU)</text>
<text class="fn b" x="559.80" y="916.30" font-size="17.3" text-anchor="middle" stroke="#000" stroke-width="0.3">% WT</text>
<path d="M647.18 661.00 L647.18 673.00 M643.18 661.00 L651.18 661.00 M643.18 673.00 L651.18 673.00 M630.16 695.00 L630.16 703.00 M626.16 695.00 L634.16 695.00 M626.16 703.00 L634.16 703.00" stroke="#000" stroke-width="1.2" fill="none"/>
<circle cx="664.20" cy="657.20" r="4.2" fill="#fff" stroke="#000" stroke-width="2.1"/>
<circle cx="647.18" cy="665.80" r="4.2" fill="#fff" stroke="#000" stroke-width="2.1"/>
<circle cx="630.16" cy="699.00" r="4.2" fill="#fff" stroke="#000" stroke-width="2.1"/>
<circle cx="613.14" cy="736.60" r="4.2" fill="#fff" stroke="#000" stroke-width="2.1"/>
<circle cx="596.12" cy="785.90" r="4.2" fill="#fff" stroke="#000" stroke-width="2.1"/>
<circle cx="579.10" cy="816.00" r="4.2" fill="#fff" stroke="#000" stroke-width="2.1"/>
<circle cx="562.08" cy="831.20" r="4.2" fill="#fff" stroke="#000" stroke-width="2.1"/>
<circle cx="545.06" cy="835.00" r="4.2" fill="#fff" stroke="#000" stroke-width="2.1"/>
<circle cx="528.04" cy="835.60" r="4.2" fill="#fff" stroke="#000" stroke-width="2.1"/>
<circle cx="511.02" cy="835.90" r="4.2" fill="#fff" stroke="#000" stroke-width="2.1"/>
<circle cx="494.00" cy="836.00" r="4.2" fill="#fff" stroke="#000" stroke-width="2.1"/>
<circle cx="476.98" cy="836.00" r="4.2" fill="#fff" stroke="#000" stroke-width="2.1"/>
<circle cx="454.30" cy="836.00" r="4.2" fill="#fff" stroke="#000" stroke-width="2.1"/>
<circle cx="664.20" cy="659.30" r="4.4" fill="#000"/>
<circle cx="647.18" cy="667.20" r="4.4" fill="#000"/>
<circle cx="630.16" cy="684.00" r="4.4" fill="#000"/>
<circle cx="613.14" cy="728.00" r="4.4" fill="#000"/>
<circle cx="596.12" cy="777.00" r="4.4" fill="#000"/>
<circle cx="579.10" cy="815.60" r="4.4" fill="#000"/>
<circle cx="562.08" cy="831.00" r="4.4" fill="#000"/>
<circle cx="545.06" cy="834.90" r="4.4" fill="#000"/>
<circle cx="528.04" cy="835.60" r="4.4" fill="#000"/>
<circle cx="511.02" cy="835.90" r="4.4" fill="#000"/>
<circle cx="494.00" cy="836.00" r="4.4" fill="#000"/>
<circle cx="476.98" cy="836.00" r="4.4" fill="#000"/>
<circle cx="454.30" cy="836.00" r="4.4" fill="#000"/>
<path d="M454.30 836.47 L456.66 836.47 L459.02 836.47 L461.38 836.46 L463.73 836.46 L466.09 836.46 L468.45 836.46 L470.81 836.46 L473.17 836.46 L475.53 836.46 L477.88 836.45 L480.24 836.45 L482.60 836.45 L484.96 836.44 L487.32 836.44 L489.68 836.43 L492.03 836.42 L494.39 836.41 L496.75 836.40 L499.11 836.39 L501.47 836.38 L503.83 836.36 L506.19 836.34 L508.54 836.31 L510.90 836.28 L513.26 836.25 L515.62 836.21 L517.98 836.16 L520.34 836.10 L522.69 836.04 L525.05 835.96 L527.41 835.86 L529.77 835.75 L532.13 835.62 L534.49 835.46 L536.84 835.28 L539.20 835.06 L541.56 834.81 L543.92 834.50 L546.28 834.14 L548.64 833.72 L551.00 833.22 L553.35 832.64 L555.71 831.95 L558.07 831.14 L560.43 830.19 L562.79 829.08 L565.15 827.79 L567.50 826.28 L569.86 824.53 L572.22 822.49 L574.58 820.15 L576.94 817.46 L579.30 814.39 L581.66 810.90 L584.01 806.96 L586.37 802.55 L588.73 797.65 L591.09 792.25 L593.45 786.37 L595.81 780.04 L598.16 773.30 L600.52 766.21 L602.88 758.86 L605.24 751.34 L607.60 743.75 L609.96 736.21 L612.31 728.81 L614.67 721.66 L617.03 714.83 L619.39 708.41 L621.75 702.43 L624.11 696.93 L626.47 691.92 L628.82 687.40 L631.18 683.37 L633.54 679.78 L635.90 676.62 L638.26 673.85 L640.62 671.44 L642.97 669.34 L645.33 667.53 L647.69 665.97 L650.05 664.63 L652.41 663.48 L654.77 662.50 L657.12 661.66 L659.48 660.95 L661.84 660.35 L664.20 659.83" stroke="#000" stroke-width="1.1" fill="none"/>
<path d="M454.30 836.75 L456.66 836.75 L459.02 836.75 L461.38 836.75 L463.73 836.75 L466.09 836.74 L468.45 836.74 L470.81 836.74 L473.17 836.73 L475.53 836.73 L477.88 836.72 L480.24 836.72 L482.60 836.71 L484.96 836.70 L487.32 836.69 L489.68 836.68 L492.03 836.66 L494.39 836.65 L496.75 836.63 L499.11 836.61 L501.47 836.58 L503.83 836.56 L506.19 836.52 L508.54 836.48 L510.90 836.44 L513.26 836.39 L515.62 836.33 L517.98 836.26 L520.34 836.18 L522.69 836.08 L525.05 835.98 L527.41 835.85 L529.77 835.70 L532.13 835.54 L534.49 835.34 L536.84 835.11 L539.20 834.85 L541.56 834.55 L543.92 834.20 L546.28 833.80 L548.64 833.33 L551.00 832.79 L553.35 832.17 L555.71 831.45 L558.07 830.63 L560.43 829.69 L562.79 828.60 L565.15 827.36 L567.50 825.94 L569.86 824.32 L572.22 822.48 L574.58 820.39 L576.94 818.03 L579.30 815.37 L581.66 812.39 L584.01 809.07 L586.37 805.38 L588.73 801.31 L591.09 796.84 L593.45 791.98 L595.81 786.73 L598.16 781.11 L600.52 775.13 L602.88 768.86 L605.24 762.32 L607.60 755.58 L609.96 748.71 L612.31 741.79 L614.67 734.89 L617.03 728.08 L619.39 721.43 L621.75 715.01 L624.11 708.88 L626.47 703.08 L628.82 697.64 L631.18 692.58 L633.54 687.92 L635.90 683.65 L638.26 679.77 L640.62 676.26 L642.97 673.11 L645.33 670.29 L647.69 667.79 L650.05 665.57 L652.41 663.61 L654.77 661.88 L657.12 660.36 L659.48 659.03 L661.84 657.87 L664.20 656.86" stroke="#000" stroke-width="1.1" fill="none"/>
</g>
<text class="fs" x="364.80" y="611.70" font-size="58" stroke="#000" stroke-width="0.5">e</text>
<path d="M353 291 L353 1203" stroke="#000" stroke-width="1.4" stroke-dasharray="14 14.44" stroke-dashoffset="6.3" fill="none"/>
<g>
<path d="M81.40 979.76 L315.50 979.76" stroke="#f0707a" stroke-width="2.05" stroke-linecap="round" stroke-dasharray="0.1 5.58" fill="none"/>
<path d="M81.40 1030.24 L315.50 1030.24" stroke="#f0707a" stroke-width="2.05" stroke-linecap="round" stroke-dasharray="0.1 5.58" fill="none"/>
<path d="M76.60 1005.00 L316.50 1005.00" stroke="#ef6a74" stroke-width="2.1" stroke-dasharray="5.5 4" stroke-dashoffset="1.7" fill="none"/>
<rect x="78.40" y="1065.58" width="6.75" height="65.62" fill="#000000"/>
<rect x="88.00" y="1024.69" width="6.75" height="106.51" fill="#808080"/>
<rect x="97.60" y="1030.87" width="6.75" height="100.33" fill="#d2d2d2"/>
<rect x="113.56" y="1025.95" width="6.75" height="105.25" fill="#000000"/>
<rect x="123.16" y="1002.22" width="6.75" height="128.98" fill="#808080"/>
<rect x="132.76" y="999.32" width="6.75" height="131.88" fill="#d2d2d2"/>
<rect x="148.72" y="1039.45" width="6.75" height="91.75" fill="#000000"/>
<rect x="158.32" y="1023.43" width="6.75" height="107.77" fill="#808080"/>
<rect x="167.92" y="1014.84" width="6.75" height="116.36" fill="#d2d2d2"/>
<rect x="183.88" y="1029.10" width="6.75" height="102.10" fill="#000000"/>
<rect x="193.48" y="1026.71" width="6.75" height="104.49" fill="#808080"/>
<rect x="203.08" y="1020.65" width="6.75" height="110.55" fill="#d2d2d2"/>
<rect x="219.04" y="1016.48" width="6.75" height="114.72" fill="#000000"/>
<rect x="228.64" y="1009.54" width="6.75" height="121.66" fill="#808080"/>
<rect x="238.24" y="1016.86" width="6.75" height="114.34" fill="#d2d2d2"/>
<rect x="254.20" y="1025.57" width="6.75" height="105.63" fill="#000000"/>
<rect x="263.80" y="1019.39" width="6.75" height="111.81" fill="#808080"/>
<rect x="273.40" y="1009.92" width="6.75" height="121.28" fill="#d2d2d2"/>
<rect x="289.36" y="990.23" width="6.75" height="140.97" fill="#000000"/>
<rect x="298.96" y="996.80" width="6.75" height="134.40" fill="#808080"/>
<rect x="308.56" y="991.50" width="6.75" height="139.70" fill="#d2d2d2"/>
<path d="M75.60 941.00 L75.60 1132.10 M74.70 1131.20 L319.00 1131.20" stroke="#000" stroke-width="1.8" fill="none"/>
<text class="fn b" x="65.30" y="1136.50" font-size="14.1" text-anchor="end" stroke="#000" stroke-width="0.3">0</text>
<text class="fn b" x="65.30" y="1073.40" font-size="14.1" text-anchor="end" stroke="#000" stroke-width="0.3">50</text>
<text class="fn b" x="65.30" y="1010.30" font-size="14.1" text-anchor="end" stroke="#000" stroke-width="0.3">100</text>
<text class="fn b" x="65.30" y="947.20" font-size="14.1" text-anchor="end" stroke="#000" stroke-width="0.3">150</text>
<text class="fn b" x="96.20" y="1151.10" font-size="14.1" text-anchor="end" transform="rotate(-45 96.20 1151.10)" stroke="#000" stroke-width="0.3">0.625</text>
<text class="fn b" x="131.36" y="1151.10" font-size="14.1" text-anchor="end" transform="rotate(-45 131.36 1151.10)" stroke="#000" stroke-width="0.3">1.25</text>
<text class="fn b" x="166.52" y="1151.10" font-size="14.1" text-anchor="end" transform="rotate(-45 166.52 1151.10)" stroke="#000" stroke-width="0.3">2.5</text>
<text class="fn b" x="201.68" y="1151.10" font-size="14.1" text-anchor="end" transform="rotate(-45 201.68 1151.10)" stroke="#000" stroke-width="0.3">5</text>
<text class="fn b" x="236.84" y="1151.10" font-size="14.1" text-anchor="end" transform="rotate(-45 236.84 1151.10)" stroke="#000" stroke-width="0.3">10</text>
<text class="fn b" x="272.00" y="1151.10" font-size="14.1" text-anchor="end" transform="rotate(-45 272.00 1151.10)" stroke="#000" stroke-width="0.3">20</text>
<text class="fn b" x="307.16" y="1151.10" font-size="14.1" text-anchor="end" transform="rotate(-45 307.16 1151.10)" stroke="#000" stroke-width="0.3">40</text>
<path d="M67.20 1131.20 L75.60 1131.20 M67.20 1068.10 L75.60 1068.10 M67.20 1005.00 L75.60 1005.00 M67.20 941.90 L75.60 941.90 M91.60 1131.20 L91.60 1139.40 M126.76 1131.20 L126.76 1139.40 M161.92 1131.20 L161.92 1139.40 M197.08 1131.20 L197.08 1139.40 M232.24 1131.20 L232.24 1139.40 M267.40 1131.20 L267.40 1139.40 M302.56 1131.20 L302.56 1139.40" stroke="#000" stroke-width="1.8" fill="none"/>
<text class="fn b" x="32.30" y="1036.55" font-size="15.3" text-anchor="middle" transform="rotate(-90 32.30 1036.55)" stroke="#000" stroke-width="0.3">% recovery</text>
<text class="fn b" x="175.80" y="1198.10" font-size="15.7" text-anchor="middle" stroke="#000" stroke-width="0.3">pS129 α-syn spike concentration (pg/mL)</text>
<rect x="100.10" y="948.8" width="20.5" height="10.6" fill="#000000"/>
<text class="fn" x="126.60" y="960.30" font-size="16.3" stroke="#000" stroke-width="0.2">WT</text>
<rect x="165.10" y="948.8" width="20.5" height="10.6" fill="#808080"/>
<text class="fn" x="190.80" y="960.30" font-size="16.3" stroke="#000" stroke-width="0.2">KO</text>
<rect x="226.80" y="948.8" width="20.5" height="10.6" fill="#d2d2d2"/>
<text class="fn" x="253.00" y="960.30" font-size="16.3" stroke="#000" stroke-width="0.2">Buffer</text>
</g>
<text class="fs" x="17.50" y="918.00" font-size="58" stroke="#000" stroke-width="0.5">f</text>
<g>
<path d="M429.50 978.94 L658.50 978.94" stroke="#f0707a" stroke-width="2.05" stroke-linecap="round" stroke-dasharray="0.1 5.58" fill="none"/>
<path d="M429.50 1029.79 L658.50 1029.79" stroke="#f0707a" stroke-width="2.05" stroke-linecap="round" stroke-dasharray="0.1 5.58" fill="none"/>
<path d="M424.00 1004.37 L667.00 1004.37" stroke="#ef6a74" stroke-width="2.1" stroke-dasharray="5.5 4" stroke-dashoffset="1.7" fill="none"/>
<rect x="426.30" y="1092.72" width="6.75" height="38.78" fill="#000000"/>
<rect x="435.90" y="1026.49" width="6.75" height="105.01" fill="#808080"/>
<rect x="445.50" y="1018.35" width="6.75" height="113.15" fill="#d2d2d2"/>
<rect x="461.87" y="1070.60" width="6.75" height="60.90" fill="#000000"/>
<rect x="471.47" y="1018.35" width="6.75" height="113.15" fill="#808080"/>
<rect x="481.07" y="1027.25" width="6.75" height="104.25" fill="#d2d2d2"/>
<rect x="497.44" y="1006.91" width="6.75" height="124.59" fill="#000000"/>
<rect x="507.04" y="1005.64" width="6.75" height="125.86" fill="#808080"/>
<rect x="516.64" y="1010.47" width="6.75" height="121.03" fill="#d2d2d2"/>
<rect x="533.01" y="1019.50" width="6.75" height="112.00" fill="#000000"/>
<rect x="542.61" y="1013.77" width="6.75" height="117.73" fill="#808080"/>
<rect x="552.21" y="1009.32" width="6.75" height="122.18" fill="#d2d2d2"/>
<rect x="568.58" y="1021.53" width="6.75" height="109.97" fill="#000000"/>
<rect x="578.18" y="1006.40" width="6.75" height="125.10" fill="#808080"/>
<rect x="587.78" y="1000.68" width="6.75" height="130.82" fill="#d2d2d2"/>
<rect x="604.15" y="1013.77" width="6.75" height="117.73" fill="#000000"/>
<rect x="613.75" y="1005.64" width="6.75" height="125.86" fill="#808080"/>
<rect x="623.35" y="1006.02" width="6.75" height="125.48" fill="#d2d2d2"/>
<rect x="639.72" y="977.41" width="6.75" height="154.09" fill="#000000"/>
<rect x="649.32" y="998.65" width="6.75" height="132.85" fill="#808080"/>
<rect x="658.92" y="953.64" width="6.75" height="177.86" fill="#d2d2d2"/>
<path d="M423.00 939.90 L423.00 1132.40 M422.10 1131.50 L670.00 1131.50" stroke="#000" stroke-width="1.8" fill="none"/>
<text class="fn b" x="412.70" y="1136.80" font-size="14.1" text-anchor="end" stroke="#000" stroke-width="0.3">0</text>
<text class="fn b" x="412.70" y="1073.23" font-size="14.1" text-anchor="end" stroke="#000" stroke-width="0.3">50</text>
<text class="fn b" x="412.70" y="1009.67" font-size="14.1" text-anchor="end" stroke="#000" stroke-width="0.3">100</text>
<text class="fn b" x="412.70" y="946.10" font-size="14.1" text-anchor="end" stroke="#000" stroke-width="0.3">150</text>
<text class="fn b" x="444.40" y="1151.30" font-size="14.1" text-anchor="end" transform="rotate(-45 444.40 1151.30)" stroke="#000" stroke-width="0.3">10</text>
<text class="fn b" x="479.97" y="1151.30" font-size="14.1" text-anchor="end" transform="rotate(-45 479.97 1151.30)" stroke="#000" stroke-width="0.3">20</text>
<text class="fn b" x="515.54" y="1151.30" font-size="14.1" text-anchor="end" transform="rotate(-45 515.54 1151.30)" stroke="#000" stroke-width="0.3">40</text>
<text class="fn b" x="551.11" y="1151.30" font-size="14.1" text-anchor="end" transform="rotate(-45 551.11 1151.30)" stroke="#000" stroke-width="0.3">80</text>
<text class="fn b" x="586.68" y="1151.30" font-size="14.1" text-anchor="end" transform="rotate(-45 586.68 1151.30)" stroke="#000" stroke-width="0.3">160</text>
<text class="fn b" x="622.25" y="1151.30" font-size="14.1" text-anchor="end" transform="rotate(-45 622.25 1151.30)" stroke="#000" stroke-width="0.3">320</text>
<text class="fn b" x="657.82" y="1151.30" font-size="14.1" text-anchor="end" transform="rotate(-45 657.82 1151.30)" stroke="#000" stroke-width="0.3">640</text>
<path d="M414.60 1131.50 L423.00 1131.50 M414.60 1067.93 L423.00 1067.93 M414.60 1004.37 L423.00 1004.37 M414.60 940.80 L423.00 940.80 M438.90 1131.50 L438.90 1139.70 M474.47 1131.50 L474.47 1139.70 M510.04 1131.50 L510.04 1139.70 M545.61 1131.50 L545.61 1139.70 M581.18 1131.50 L581.18 1139.70 M616.75 1131.50 L616.75 1139.70 M652.32 1131.50 L652.32 1139.70" stroke="#000" stroke-width="1.8" fill="none"/>
<text class="fn b" x="380.00" y="1036.15" font-size="15.3" text-anchor="middle" transform="rotate(-90 380.00 1036.15)" stroke="#000" stroke-width="0.3">% recovery</text>
<text class="fn b" x="531.00" y="1190.50" font-size="15.85" text-anchor="middle" stroke="#000" stroke-width="0.3">WT α-syn spike concentration (pg/mL)</text>
</g>
<text class="fs" x="371.00" y="912.20" font-size="58" stroke="#000" stroke-width="0.5">g</text>
</svg>
</body>
</html>
